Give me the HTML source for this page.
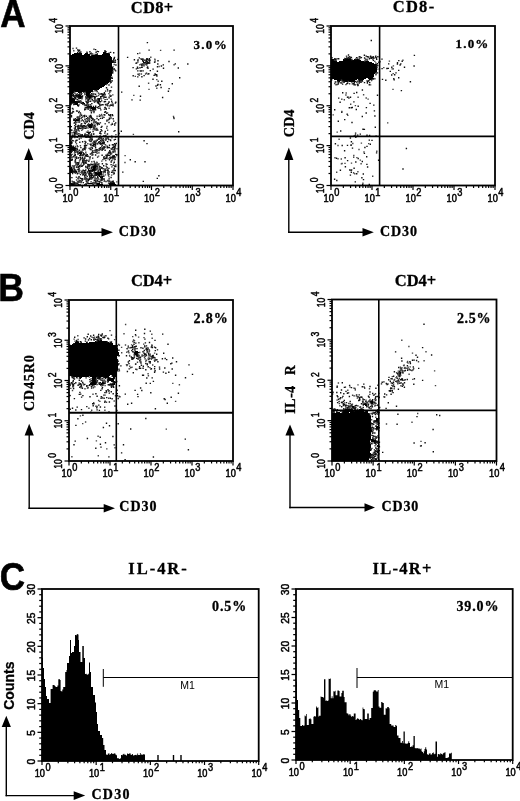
<!DOCTYPE html>
<html><head><meta charset="utf-8"><style>
html,body{margin:0;padding:0;background:#fff;overflow:hidden;}
svg{display:block;}
</style></head><body>
<svg width="520" height="801" viewBox="0 0 520 801">
<rect width="520" height="801" fill="#fff"/>
<path d="M103 52.5h3M74 53.5h8M85 53.5h3M103 53.5h6M72 54.5h10M84 54.5h6M96 54.5h2M102 54.5h8M70 55.5h20M91 55.5h19M70 56.5h41M70 57.5h42M70 58.5h42M70 59.5h42M70 60.5h42M70 61.5h43M143 61.5h1M70 62.5h43M143 62.5h2M70 63.5h42M70 64.5h42M70 65.5h42M70 66.5h42M70 67.5h43M70 68.5h43M70 69.5h43M70 70.5h43M70 71.5h42M70 72.5h42M70 73.5h42M70 74.5h42M70 75.5h42M70 76.5h41M70 77.5h41M70 78.5h41M70 79.5h41M70 80.5h40M70 81.5h40M70 82.5h39M70 83.5h38M70 84.5h36M70 85.5h35M70 86.5h34M70 87.5h32M70 88.5h30M70 89.5h29M70 90.5h23M70 91.5h22M70 92.5h4M78 92.5h4M86 92.5h5M70 93.5h3M86 93.5h4M70 94.5h2M78 94.5h2M86 94.5h4M103 94.5h1M70 95.5h3M76 95.5h5M86 95.5h5M70 96.5h2M77 96.5h5M87 96.5h5M93 96.5h2M70 97.5h2M79 97.5h3M88 97.5h3M70 98.5h4M80 98.5h1M89 98.5h1M98 98.5h2M70 99.5h5M98 99.5h2M70 100.5h5M98 100.5h2M70 101.5h7M94 101.5h2M98 101.5h1M70 102.5h8M82 102.5h2M98 102.5h1M70 103.5h2M74 103.5h4M82 103.5h3M98 103.5h1M70 104.5h1M75 104.5h3M86 104.5h1M77 105.5h1M88 106.5h4M89 107.5h6M90 108.5h6M92 109.5h3M91 117.5h1M76 119.5h3M75 120.5h4M88 124.5h3M70 125.5h1M88 125.5h4M70 126.5h2M81 126.5h4M88 126.5h4M82 127.5h2M89 127.5h3M75 131.5h1M74 132.5h2M87 132.5h2M74 133.5h2M88 133.5h1M81 136.5h2M71 137.5h1M90 139.5h3M91 140.5h1M71 141.5h1M70 142.5h2M102 142.5h2M70 143.5h2M102 143.5h1M70 144.5h1M93 144.5h2M70 145.5h2M93 145.5h1M70 146.5h2M70 147.5h5M70 148.5h6M70 149.5h6M70 150.5h6M70 151.5h2M79 152.5h3M79 153.5h3M80 154.5h1M113 156.5h2M77 164.5h1M95 164.5h1M94 165.5h2M93 166.5h3M71 167.5h1M93 167.5h3M70 168.5h2M93 168.5h3M70 169.5h2M92 169.5h4M100 169.5h1M70 170.5h3M88 170.5h7M100 170.5h1M70 171.5h3M75 171.5h2M89 171.5h3M100 171.5h2M70 172.5h2M84 172.5h2M90 172.5h1M95 172.5h7M84 173.5h2M95 173.5h7M85 174.5h1M91 174.5h1M95 174.5h6M90 175.5h2M98 175.5h2M91 176.5h1M99 176.5h4M100 177.5h3M102 178.5h1M102 179.5h1M88 180.5h1M73 182.5h1M71 183.5h5M88 183.5h5M96 183.5h4M109 183.5h6M71 184.5h3M78 184.5h1M97 184.5h6M109 184.5h7M110 185.5h6" stroke="#000" stroke-width="1.05" fill="none"/>
<path d="M147.4 42.6h0M76.5 48.1h0M77.7 49.9h0M78.2 50.1h0M79.6 50.2h0M95.6 49.6h0M149.1 50.1h0M174.1 50.1h0M78.9 51.2h0M97.4 51.4h0M104.9 51.4h0M105 50.7h0M77.7 52.4h0M80.8 52h0M86.9 52.1h0M89.9 51.8h0M96.1 52.3h0M98.4 51.6h0M106 51.8h0M110.6 52.4h0M79.8 52.6h0M87.1 52.6h0M91.3 53.3h0M109.1 53.2h0M113.7 52.8h0M90.3 53.6h0M95.2 54.4h0M137.7 53.6h0M114.5 57.4h0M127.6 57.4h0M114.3 58.3h0M139.3 57.9h0M113.6 59.2h0M117.8 59.4h0M140.9 58.9h0M141.8 59.3h0M146.8 58.6h0M147.1 58.6h0M147.5 59.3h0M149.4 58.8h0M113.8 60.1h0M115.4 60.2h0M134.4 59.8h0M142.8 59.8h0M144.7 60.4h0M146.3 60h0M148.5 60.1h0M150 60.2h0M112.8 60.7h0M137.9 60.5h0M142.7 60.7h0M143 61h0M146.2 60.7h0M147.2 61.3h0M149.6 61h0M158 60.8h0M113.4 61.7h0M113.8 62.4h0M114.8 62.1h0M115.4 62.2h0M146 61.8h0M147.7 62.5h0M148.8 62.4h0M154.6 62.2h0M169 61.5h0M136.1 63.2h0M136.8 62.9h0M145.7 62.8h0M146.5 63.2h0M147.3 63.5h0M148.8 63.3h0M149.7 63h0M141.2 64.2h0M142.9 64.4h0M143 63.7h0M157.8 64h0M175.3 63.9h0M187.8 64h0M115.9 65h0M141.8 65.4h0M146 64.5h0M163.3 64.9h0M144 65.9h0M161.4 66h0M113 66.9h0M137.5 67.2h0M141.7 67.3h0M142.3 67.1h0M147.6 67h0M157.5 66.7h0M133.1 67.6h0M137.9 68.4h0M140 67.8h0M147.3 67.6h0M148 68.3h0M163.5 68.3h0M178.3 68h0M114 68.8h0M114.1 68.8h0M136.4 68.9h0M153.1 69.1h0M114.9 69.9h0M115.7 70.9h0M137.8 70.9h0M140.2 70.9h0M141.4 70.9h0M143.1 70.9h0M150.3 70.6h0M157.4 71.2h0M112.8 71.6h0M112.7 73h0M146.5 73.1h0M138.1 74.3h0M148 74.1h0M148.8 73.7h0M155.1 73.9h0M154.1 75.4h0M155.3 74.7h0M156.7 74.8h0M133.2 75.7h0M144.1 75.6h0M156.9 76h0M111.8 77.1h0M137.8 76.9h0M141.9 76.8h0M111 78.1h0M112.3 78.4h0M179.7 77.8h0M153 79.3h0M110.1 80.5h0M110.4 81.3h0M112.3 80.9h0M161.8 81.3h0M111.1 82.2h0M110.4 82.9h0M158 84.4h0M172.3 83.8h0M109 85h0M157.6 85.3h0M160.4 84.7h0M139.2 86.2h0M156 86h0M111.5 87.1h0M161.1 87.5h0M106.5 87.8h0M107.5 89.4h0M169.1 88.6h0M96.7 90.2h0M92.7 91.5h0M95.1 90.8h0M105.6 91.1h0M107.7 90.9h0M109.7 91h0M110.8 90.7h0M168.4 91.3h0M83.9 92.4h0M97.1 91.6h0M121.7 92.1h0M74.9 93.1h0M79.8 93.5h0M81.8 93.4h0M98.5 93.1h0M104.4 92.7h0M73.3 94.2h0M77.4 93.9h0M90 94.5h0M91.6 93.8h0M93.2 94h0M95.6 94.2h0M101.4 93.6h0M101.4 94.1h0M102.9 93.9h0M104.6 93.9h0M104.9 94.5h0M72.7 94.9h0M73.6 95.1h0M76.4 94.8h0M81.4 94.8h0M85 94.5h0M91 95.4h0M102.4 94.5h0M73.1 96.4h0M74 95.8h0M75 96.3h0M75.7 95.8h0M76.7 96.4h0M82.7 95.9h0M92 95.5h0M92.7 96.4h0M96.8 96.2h0M102.1 96.2h0M102.8 95.6h0M103.1 95.6h0M110.7 96.4h0M111 95.8h0M140.5 96.2h0M78.3 97.4h0M82.3 96.6h0M86 96.7h0M87.6 97.1h0M91.5 97.3h0M95.1 96.5h0M100.7 96.7h0M104.6 97.2h0M106 97.3h0M72.1 97.9h0M74.4 97.5h0M75.8 97.7h0M79.4 98.2h0M85.9 98.1h0M87.1 98.3h0M94.4 97.8h0M94.5 98h0M95.2 97.5h0M100.9 98.3h0M109.1 97.9h0M162.6 97.5h0M74.1 98.9h0M75.7 98.7h0M78.8 98.7h0M81.9 98.7h0M88 99.4h0M89.3 99.1h0M90.9 98.8h0M95 99.1h0M107.1 99.4h0M77.3 99.7h0M85.9 99.9h0M87.8 100.2h0M88.5 100.3h0M92.4 99.8h0M96.9 100.2h0M105.1 99.6h0M132 99.9h0M140.2 100.1h0M78.8 101h0M79.3 101.5h0M80.9 101.3h0M88.9 101.4h0M90.6 101.2h0M93.3 100.9h0M101.7 100.9h0M111.7 101.2h0M77.4 101.6h0M78.3 102.3h0M86.1 101.6h0M86.8 102.2h0M88.2 102.3h0M97.7 101.8h0M99.3 101.7h0M100.4 101.8h0M104.3 101.7h0M105.5 101.6h0M109 102.4h0M115.8 102.3h0M72.3 103.1h0M79.8 102.6h0M80 102.6h0M81.4 103.3h0M87.2 103.2h0M97.6 102.7h0M108.3 103.5h0M115.4 103.1h0M74.9 104.3h0M88.1 104.2h0M91.8 103.6h0M99.2 104h0M99.9 104.3h0M105.5 104.4h0M107.1 104.2h0M113 104.2h0M73.7 104.6h0M79 104.9h0M84.1 104.5h0M90.2 104.7h0M100.6 105.4h0M102.1 104.6h0M103 104.8h0M110.5 105.3h0M111 104.9h0M111.3 105.3h0M112.8 105.2h0M78.2 105.5h0M78.4 106h0M85.1 105.5h0M86.6 105.8h0M88.5 105.7h0M93.5 106.4h0M95.7 106.3h0M99.8 105.6h0M107.8 105.7h0M113.1 105.9h0M87.6 106.7h0M88.5 107.4h0M95.7 107.2h0M98.4 106.6h0M105.2 107.4h0M85.6 107.6h0M86.4 107.6h0M87.8 107.7h0M88.5 108.4h0M97.4 107.6h0M100.1 108.4h0M104.9 107.8h0M106.1 108.4h0M72.5 108.5h0M85.3 109.4h0M106.2 109.3h0M84.7 109.8h0M90.1 110.2h0M90.8 109.9h0M93.9 110.3h0M95.6 109.8h0M100.8 109.9h0M76.6 111h0M77.3 111.1h0M79.2 111.4h0M92 110.8h0M93.9 111.5h0M72.9 111.5h0M73.5 111.7h0M104.8 112.3h0M105.6 111.8h0M72.2 112.7h0M78.7 112.6h0M80.4 113h0M91.4 112.7h0M106.6 113.2h0M71 113.6h0M81.6 115.3h0M84.7 115.5h0M90.7 115.4h0M104.1 114.8h0M104.8 115h0M108.7 114.7h0M110.6 114.8h0M112.4 114.7h0M71.5 115.8h0M79.9 116.2h0M83.5 115.9h0M86.4 116.3h0M89.4 116.1h0M90.2 116.5h0M91.2 116.5h0M99.3 116.3h0M100.4 115.9h0M109.8 115.5h0M110.7 116.1h0M112.7 115.6h0M71.5 116.8h0M77.2 117.3h0M78 117h0M82.1 117.4h0M84.5 116.8h0M104 117.4h0M81.4 118.1h0M87.8 117.7h0M90 117.6h0M91.5 118.1h0M92.1 118.3h0M100.5 118.4h0M102.4 118.2h0M109.4 118.1h0M111 118h0M173.8 117.7h0M73.9 119.1h0M74.4 119.5h0M75.6 118.8h0M78.3 118.7h0M79.3 119.4h0M79.7 118.5h0M85 119.2h0M86.7 118.6h0M93.2 119h0M97 118.5h0M109.5 119.1h0M113.2 118.8h0M73.8 120.4h0M74.8 120.3h0M79.2 120.4h0M82.3 120h0M89 120.4h0M91.7 120.5h0M92.8 119.5h0M98.6 119.8h0M107 120.1h0M108.5 119.9h0M83.6 121h0M89.4 121.5h0M94.2 120.8h0M106.9 121.1h0M113.7 121.1h0M75.4 121.7h0M76.3 122.1h0M79.5 122h0M86.7 122h0M87.4 121.5h0M95.6 122.2h0M74.2 123.1h0M74.8 122.7h0M84.7 123.1h0M96.3 123h0M97.3 122.9h0M98.7 123.2h0M109 122.5h0M115.7 122.9h0M75.7 124.2h0M81.7 123.8h0M85.4 123.6h0M91.4 124.5h0M91.6 123.5h0M92.7 124.4h0M97.5 123.5h0M99.2 124.2h0M112.5 124.4h0M114.7 124h0M81 125.5h0M95 125h0M97.4 124.9h0M74.8 125.6h0M77.3 126.3h0M78.4 125.5h0M78.6 126.3h0M80.4 125.7h0M80.6 126.4h0M82.3 125.9h0M83.7 125.8h0M84.6 125.6h0M86 126.4h0M87.2 125.6h0M92.8 125.7h0M93 126.5h0M94.7 125.6h0M101.9 126.5h0M75.6 126.6h0M85 126.5h0M101.2 127.4h0M75.4 127.8h0M77.9 128.4h0M78 127.8h0M79.1 127.8h0M79.9 128.4h0M81.1 128.5h0M83.1 128.1h0M84.9 128.2h0M86 128.4h0M93.1 127.5h0M93.9 128.3h0M106.7 128.1h0M75.2 128.7h0M78.6 128.9h0M82.7 129.1h0M94.9 128.9h0M96.8 128.5h0M70.7 129.7h0M71.8 130.3h0M76.1 129.6h0M78 130h0M78.3 129.8h0M95 129.9h0M97.1 129.7h0M97.8 130.1h0M101.1 129.6h0M76.1 130.7h0M88 131.1h0M93.1 131.5h0M101.8 130.8h0M115 130.6h0M121.3 131.2h0M76.6 131.7h0M90.2 132.3h0M100.4 131.8h0M105.3 131.5h0M178.7 131.7h0M72.1 132.9h0M73.9 132.5h0M76.9 133.2h0M89.1 132.8h0M99.8 133.3h0M104.8 133.1h0M119.1 133.5h0M74.4 134.2h0M78.9 133.6h0M85.1 134h0M88.6 134.1h0M89.2 133.7h0M91.5 133.9h0M93.6 134.3h0M100.9 133.8h0M107.5 134h0M72.3 135.3h0M74.9 135.1h0M78.6 135.4h0M81.7 135.3h0M82.2 134.6h0M82.3 135.4h0M84.7 135.3h0M86.7 134.9h0M91.1 134.8h0M105.9 135.4h0M72.1 136.2h0M73.6 136.3h0M74.9 136.2h0M79.5 136h0M80.7 135.7h0M83.5 136.3h0M84.4 136.3h0M85.2 135.5h0M87.2 136h0M88.3 135.6h0M91 135.7h0M91.8 136.1h0M96.7 136.5h0M100 136.3h0M100.2 136h0M104 135.8h0M105.6 136.2h0M111.8 136.2h0M72.7 137.1h0M77.2 137.3h0M85.6 136.7h0M86.2 137.3h0M87.8 137h0M88.7 136.7h0M89.8 137.3h0M90.5 137.5h0M100.6 137.1h0M107.9 137.1h0M115.6 137.1h0M71.6 138.1h0M81.1 138.1h0M92.1 138h0M98.9 138.3h0M99.6 137.8h0M106 138.2h0M71.6 139.1h0M79.3 139h0M90.9 138.9h0M98.3 139.2h0M101.4 138.6h0M103.2 138.6h0M108 138.5h0M108.8 139.5h0M115.4 139.4h0M76.1 140.5h0M77 140.2h0M89.3 140.1h0M97.2 140.3h0M100.6 140.4h0M102.1 140h0M103.2 140.3h0M105.7 140.1h0M110.5 139.9h0M114.3 139.9h0M70.7 140.5h0M72.5 140.7h0M73.1 140.8h0M90.1 141.2h0M93.9 141.4h0M94.6 141.3h0M96.1 141.3h0M103.8 141.2h0M110.7 140.5h0M144.1 140.8h0M79.8 142.3h0M82.6 141.8h0M85 141.5h0M85.8 142.2h0M91.1 141.5h0M95.7 142.4h0M98.9 141.9h0M99.6 141.7h0M101.5 141.9h0M107.6 141.6h0M72.2 142.9h0M93.1 143.2h0M94.4 142.6h0M95 143.2h0M98.4 142.6h0M100.2 142.5h0M104.3 142.6h0M116.3 143.4h0M85.1 143.7h0M90.2 144.3h0M91.4 144.1h0M95.6 143.9h0M97.7 143.8h0M99.8 143.6h0M100.7 143.6h0M100.7 144.3h0M101.9 143.7h0M103.6 143.5h0M104.1 143.9h0M114.6 143.6h0M147 143.6h0M71.1 145h0M86.6 145.4h0M95.4 144.7h0M102.2 145.4h0M105.5 144.9h0M109.5 145.3h0M112.4 144.7h0M113.8 144.7h0M115.6 144.6h0M72.8 146.4h0M73.4 146.2h0M84.5 145.8h0M85.4 145.5h0M91 145.6h0M92.7 145.5h0M93.6 146.1h0M95.5 146h0M114.3 146.4h0M115.5 145.9h0M77.8 146.6h0M84.9 146.9h0M85.5 147.2h0M103.6 147h0M104.6 146.8h0M105 147.2h0M107.3 146.8h0M108.1 147.5h0M113.4 146.9h0M114.9 147.3h0M77 148.5h0M80.9 147.6h0M84.4 148.3h0M85.7 148h0M91.9 147.5h0M92.4 148.2h0M95.6 147.8h0M100.3 147.7h0M102.1 148h0M103.3 148.1h0M104.4 148.1h0M107.3 147.7h0M109.4 147.5h0M112.5 147.8h0M113.8 147.8h0M76.8 148.7h0M83.1 149h0M84.6 149.2h0M90.1 148.9h0M90.4 149.5h0M99.2 149h0M99.4 148.7h0M102.1 148.8h0M103 149.4h0M111.1 148.9h0M112 149.2h0M114.7 148.7h0M115.1 148.9h0M77.4 149.5h0M79.4 150.2h0M82.6 149.7h0M95.2 150.2h0M96.3 149.8h0M97.2 149.8h0M100.4 149.5h0M102.1 150.2h0M105.1 150.3h0M114.3 150h0M74.7 151.1h0M76.5 150.9h0M77.2 151.4h0M92.9 150.6h0M96.8 150.6h0M99 150.6h0M109.7 150.7h0M71.4 152.4h0M75.1 152.3h0M77 152.1h0M78 152.4h0M81.6 151.9h0M92.7 152h0M95 152.4h0M95.6 152.1h0M109.1 152.2h0M113.5 151.6h0M115 151.9h0M83.1 152.8h0M91.8 153.5h0M93.2 152.6h0M98.9 152.9h0M108.6 153h0M110.3 152.6h0M72 154.4h0M75.3 154.4h0M77.8 154.1h0M78.2 153.7h0M83.7 154.2h0M83.8 153.6h0M84.6 154.1h0M86.2 154.1h0M90.4 154h0M107.5 154.1h0M110.1 153.5h0M110.7 154h0M115.7 154.4h0M71.2 155.2h0M74.5 155.2h0M81.7 155h0M83.7 155h0M87.3 154.6h0M92.8 154.7h0M95.6 155h0M102.1 155.3h0M106 155.3h0M108.3 155.2h0M117 154.7h0M75.2 155.7h0M79.7 155.5h0M80.6 155.7h0M82.6 155.8h0M85.7 155.6h0M86.6 155.7h0M87 156.4h0M88.1 156.2h0M106.5 155.5h0M107.1 155.6h0M109.7 155.5h0M112.9 155.9h0M114.2 155.6h0M71.8 156.9h0M73.7 156.5h0M76.6 156.9h0M90.2 157h0M97.6 157.1h0M104.1 156.6h0M106.9 156.7h0M107 156.7h0M110.9 157.1h0M112.5 157.4h0M112.5 156.5h0M114.1 157.4h0M115.4 157.1h0M75.2 157.9h0M76.6 158.2h0M78.6 157.8h0M80.4 157.6h0M82.4 157.7h0M84.8 158.3h0M92.7 158.1h0M103.7 157.9h0M105.5 158.5h0M106.2 158.2h0M106.8 157.6h0M109.5 157.9h0M110.5 158.2h0M111.2 157.7h0M113.7 157.7h0M71.9 159.2h0M72.3 159.5h0M80.9 158.7h0M82.8 159h0M83.4 159.3h0M104.2 158.7h0M112.9 158.7h0M70.8 160.2h0M71.8 160.2h0M75.5 159.8h0M80.2 159.7h0M84.1 159.5h0M86.5 160.2h0M109.6 159.8h0M130.3 159.8h0M75.1 161h0M82.6 160.7h0M83 160.9h0M84.3 161.1h0M85.1 160.8h0M87 160.5h0M88.8 161.4h0M94.1 161.5h0M111.9 160.5h0M75.3 162.2h0M82.8 161.7h0M82.9 162.2h0M86 162h0M111.2 162.1h0M114.3 162.2h0M135.2 161.7h0M145 161.8h0M77.3 162.6h0M77.8 163h0M78.5 163.2h0M78.9 162.7h0M83.5 162.7h0M85.1 162.7h0M86.1 163.3h0M76.4 164h0M78.5 164.3h0M83.8 163.5h0M83.9 164.2h0M87.8 164.5h0M90.9 164.3h0M91.3 164.5h0M92.6 164.4h0M95.3 163.9h0M97.1 164.4h0M98.5 164.4h0M102.4 163.7h0M106.1 163.9h0M107 164.4h0M83 165.4h0M88.7 164.7h0M89.2 164.7h0M93.2 165.1h0M94.2 164.7h0M96.7 165h0M111.1 164.6h0M113.1 165.3h0M72.8 165.9h0M74.4 166h0M79.3 165.6h0M81.6 166h0M81.8 166.2h0M82.2 166.1h0M85.8 166.4h0M88 166h0M89.2 166.4h0M89.9 165.5h0M92.2 166.4h0M96.5 166.4h0M99.3 166.2h0M103.7 165.8h0M106.2 166.1h0M114.8 165.9h0M114.8 166.3h0M115.8 166.5h0M76.5 167.3h0M78.4 167.4h0M78.7 166.6h0M79.9 166.7h0M87.6 166.9h0M91.5 167.4h0M92.2 167.2h0M97 167.4h0M97.3 166.5h0M99.3 167h0M107.2 167.5h0M111.9 166.9h0M72.8 168.1h0M74.1 168h0M86 167.5h0M87.6 167.8h0M87.9 168.4h0M101.1 168.3h0M101.1 167.8h0M102.1 167.8h0M106.9 168.1h0M108.9 168.4h0M114.2 168.3h0M74.6 169.4h0M77.9 169.4h0M79.1 168.8h0M88.6 169.4h0M91.6 168.8h0M92.1 168.9h0M97.1 168.8h0M99.7 169.2h0M103.1 168.8h0M105 169h0M72.4 169.6h0M74.3 170.3h0M75.8 170.3h0M79 169.7h0M83.2 170.3h0M85.8 170h0M96.3 169.9h0M98.2 170.2h0M104.9 170.1h0M105.8 170.2h0M107.6 170h0M107.7 170.3h0M108.2 170.2h0M115.3 170.5h0M73.7 171.3h0M74.8 171.3h0M81.9 171.2h0M82.3 171.2h0M84.4 170.7h0M84.9 171.2h0M85 170.9h0M88.1 171.4h0M92.6 171.4h0M95.1 170.6h0M103.8 171.3h0M108.1 171.3h0M114.3 170.5h0M72.6 172.3h0M73.6 172.1h0M76.8 172.4h0M78.6 171.6h0M87.4 171.9h0M94.3 171.9h0M98.8 171.5h0M102.1 171.9h0M104.6 171.6h0M105.1 171.8h0M111.7 172.4h0M112.3 172.1h0M122.8 172.1h0M74.9 172.6h0M75.5 173h0M81.1 172.5h0M82.6 172.6h0M83.9 173.3h0M89.5 172.6h0M90.4 173.2h0M94.2 173h0M107.9 172.7h0M113.8 173h0M114.1 172.9h0M114.3 173.5h0M72.6 173.5h0M77.4 173.7h0M82.9 174.3h0M83.8 174.2h0M88.8 173.8h0M89.3 173.9h0M91.6 173.7h0M101.5 174.3h0M108.3 174.3h0M80.5 174.6h0M82.9 175.1h0M86.1 175h0M89.1 175.1h0M90.2 174.9h0M92.4 175.4h0M96.4 175.3h0M101.9 175h0M84.7 175.6h0M87.2 176.4h0M89.7 176.4h0M93.4 176h0M94.6 175.8h0M95 175.6h0M97.8 176h0M103.8 175.9h0M103.8 176.4h0M158.9 175.7h0M79.1 176.8h0M84.9 176.9h0M90 177h0M93.1 177.5h0M97.7 177.2h0M71.9 177.6h0M80.4 178.2h0M85.2 177.8h0M86.7 178.3h0M89.2 178.4h0M90.3 177.8h0M91.7 177.7h0M91.9 178.5h0M98.2 178.1h0M101.5 178.2h0M111.1 177.5h0M157.3 178.4h0M78.4 178.9h0M81.6 178.8h0M82.4 178.6h0M82.8 179.5h0M86 179.2h0M90.1 179.1h0M104 178.8h0M82.2 180.5h0M87 180h0M88 179.6h0M89.3 179.6h0M94.3 180.3h0M95.3 180.4h0M97.4 180.5h0M101.7 179.7h0M102.1 180h0M78.3 181.1h0M79.8 180.5h0M86.4 181.4h0M98.5 181.5h0M99.9 181.4h0M101.6 180.6h0M106 181.5h0M107.9 180.5h0M109.8 181.2h0M113.3 181.1h0M143.3 181.4h0M74 181.7h0M79 182.4h0M81.1 181.8h0M91.1 181.9h0M95.6 182.3h0M95.7 181.8h0M96.2 182h0M99.9 182.3h0M111.3 182.5h0M112.2 181.5h0M112.8 182.2h0M70.9 183.5h0M74.3 182.7h0M76.4 183.4h0M77.8 183.1h0M81 182.6h0M83.3 182.6h0M87.1 182.8h0M87.2 183.4h0M93.9 183.1h0M101.8 182.6h0M108.6 183.1h0M110.3 182.7h0M114 182.8h0M77.4 184.1h0M86.3 184.2h0M74.4 184.8h0M84.8 184.6h0M93.1 184.7h0" stroke="#111" stroke-width="1.4" stroke-linecap="square" fill="none"/>
<path d="M73 48.5h0M94 49.2h0M160.6 50.4h0M73.8 50.8h0M139.8 53.1h0M92 53.6h0M92.9 54.2h0M97.3 53.7h0M91.2 54.9h0M150.8 57.3h0M142.9 58.7h0M154.8 59.1h0M138.1 59.7h0M143.7 59.7h0M145.2 60.5h0M155.1 60h0M115 61.5h0M137.9 62h0M155 61.7h0M144.5 63.4h0M114.2 64.5h0M139.9 64.7h0M142.7 65.3h0M144.1 64.7h0M146.8 65h0M174.1 64.7h0M159.1 66.5h0M113.4 69.8h0M140.9 71.3h0M139.5 73.9h0M141.4 74h0M145.6 74h0M139.2 75.4h0M135.3 76.4h0M156.8 79.6h0M111.5 80.9h0M158.2 81.3h0M148.6 83.2h0M106.6 84.5h0M156.8 88.2h0M149 89.4h0M74.5 92.1h0M85.3 92.5h0M109.8 92.4h0M84.8 93.2h0M75.9 94.1h0M80.4 94.2h0M80.9 93.5h0M94.1 94h0M99.5 94.1h0M100.6 94h0M108.9 93.6h0M77.8 94.6h0M93 95.3h0M105.1 94.8h0M109.9 95.3h0M112.8 94.9h0M133.8 95.4h0M98.6 95.5h0M103.4 96.2h0M104.1 96.2h0M77.4 97.5h0M86 96.6h0M109.3 97h0M82.4 97.6h0M88.3 98.4h0M92 97.7h0M103.4 98.1h0M103.7 97.8h0M94.9 99.5h0M97.5 99.3h0M97.6 98.7h0M101.1 99.1h0M111.1 99.3h0M80.4 100.6h0M87.7 101.2h0M94.5 100.7h0M95.5 100.8h0M97.9 100.7h0M81.6 102.2h0M94.5 102.3h0M96.1 101.5h0M109 101.6h0M112.2 102.7h0M73.6 103.7h0M82.7 104.2h0M87.3 104.3h0M71.3 104.5h0M85.9 104.6h0M91 105.3h0M101.1 105.1h0M101.4 104.6h0M106.1 105.4h0M87.7 105.6h0M99.7 106.1h0M109.8 106h0M84.9 108.3h0M90 108.2h0M98.5 108.3h0M100 108.3h0M109.1 108.2h0M73.3 109.1h0M86.1 108.9h0M87.6 108.8h0M88.3 109.3h0M104.4 109.4h0M91.1 111.1h0M94.2 111.6h0M72 113.1h0M93.9 112.6h0M107.6 113h0M80.8 114.2h0M80 115.1h0M99.6 114.9h0M101.6 114.5h0M97.1 116.2h0M102 115.8h0M173.5 116.4h0M79.2 117.3h0M82.5 116.9h0M103 117.2h0M78.2 117.5h0M89.3 118.4h0M77.7 118.5h0M87.8 119.5h0M88.5 118.7h0M174.1 118.6h0M87.7 120.1h0M89.7 119.7h0M94.7 119.8h0M81.3 120.9h0M85.9 120.5h0M77.9 122h0M78.9 122h0M85.3 121.8h0M93.6 122.3h0M94.2 121.8h0M95.9 121.8h0M96.3 122.3h0M75.6 123.1h0M84.4 122.9h0M94 123h0M100.4 122.7h0M112.3 123.4h0M81.1 124.2h0M88.6 123.8h0M105.2 123.8h0M87.7 124.8h0M111.3 124.8h0M114.7 125.3h0M79.8 126h0M93.6 126.2h0M107.1 126.4h0M70.6 127.2h0M79.3 126.9h0M81.2 127.3h0M84 127h0M86.3 127.3h0M88 127.3h0M94.4 126.6h0M95.4 126.7h0M74.4 128.2h0M77.8 127.6h0M82.8 128.1h0M88 128.1h0M94.5 127.8h0M90.5 128.9h0M95.9 129.1h0M74.8 129.8h0M78.4 130.2h0M81.8 130.4h0M93.1 129.6h0M96.4 130.4h0M96.8 129.7h0M107.6 130.3h0M74.2 131h0M74.8 130.9h0M79.2 131h0M114 131.4h0M70.7 132.1h0M76.1 132.2h0M86.5 132.1h0M75.9 134.3h0M77.5 134.4h0M93.7 133.8h0M133.4 134.4h0M73.3 135.5h0M80.2 134.5h0M81 134.9h0M87.6 134.8h0M115.9 134.6h0M89.9 136.3h0M90 136h0M103.6 136.1h0M71.7 136.8h0M75.6 136.9h0M88.3 137.3h0M74.8 137.5h0M99.8 138.4h0M101.4 137.7h0M106.6 138.4h0M111.9 137.8h0M89.9 139.2h0M91.1 138.8h0M99.2 139.2h0M100.3 138.6h0M105.2 139.4h0M92.2 140.1h0M96.2 140.5h0M106.4 139.6h0M70.7 141h0M75.5 141.2h0M90.9 141h0M75.7 142.3h0M93.3 142.4h0M95.3 141.9h0M102.8 141.9h0M76.5 143.8h0M87.8 143.7h0M96.9 143.7h0M101.3 144.4h0M113.4 145.2h0M77.3 145.8h0M80.4 145.7h0M94.7 145.9h0M94.9 146.4h0M101.7 146.5h0M107 145.9h0M75.5 146.5h0M75.5 147.3h0M85.6 146.9h0M103.7 146.8h0M89.1 148.4h0M90.4 148h0M115.3 147.7h0M100.6 148.8h0M103.5 149.3h0M117 148.7h0M76.3 149.7h0M83.2 150h0M85.3 149.8h0M91.6 149.7h0M98.2 150.1h0M113.3 149.7h0M72.4 151.3h0M78.8 151.3h0M80.7 151.5h0M82.1 151.1h0M94.9 150.8h0M97.1 151.3h0M110.5 151.4h0M112.8 151.4h0M115 150.8h0M76.6 151.5h0M85.8 152.3h0M91.8 152.4h0M96 152h0M96.8 152.3h0M113.3 152.4h0M74.5 153h0M97.1 153.4h0M109.6 153.4h0M111.8 152.9h0M70.8 154.1h0M92.1 153.8h0M111.6 153.7h0M82.5 154.8h0M92 155.4h0M98.6 156.1h0M116.6 155.6h0M125.1 155.6h0M72.8 157.1h0M84.5 157.3h0M85.4 156.6h0M105 157.1h0M71.6 157.6h0M78.2 158.2h0M89.5 157.5h0M114.4 158.3h0M82.9 159.2h0M90 158.9h0M108 158.7h0M115.3 159.3h0M89 160.2h0M102.9 159.6h0M114.5 159.8h0M79.5 161h0M85.7 161.1h0M101.8 161.1h0M105.8 160.5h0M76.4 162.5h0M91.8 161.7h0M96.8 162.2h0M111.3 161.6h0M75.6 163.1h0M81.5 163.1h0M94.7 162.8h0M97.2 162.6h0M113.6 163.1h0M125 162.5h0M93.8 164.5h0M94.4 163.6h0M96.8 163.8h0M98.9 163.8h0M75.7 165h0M77.5 165.3h0M80.5 165.2h0M81.2 164.9h0M96.5 164.9h0M98 165.3h0M115.5 165.1h0M115.9 164.9h0M70.8 166.3h0M76.8 166.5h0M88.9 166.5h0M73.4 166.6h0M77.4 167.3h0M97.4 167.5h0M100.6 166.6h0M74.3 168h0M89.7 168.2h0M99.1 168.3h0M96.3 168.8h0M73.7 170.3h0M79.8 170.4h0M91 169.5h0M99.2 170h0M113.4 170.3h0M114 169.5h0M78.4 170.7h0M79.4 171.5h0M83 171.4h0M112.4 170.7h0M87.5 172.5h0M91.2 172.1h0M97.5 171.8h0M103.6 172.3h0M105.3 172.5h0M109.4 172h0M113.4 172.1h0M79 173.3h0M81.6 173h0M82.2 173h0M83.5 172.7h0M86.1 173.4h0M88 172.8h0M108.2 173h0M84.8 174h0M92.5 174.3h0M94.3 173.9h0M103.2 174h0M109.1 174.2h0M113.5 174h0M94.7 174.8h0M105.4 174.9h0M108.4 175.3h0M111.6 175.1h0M90.6 176.5h0M101 175.7h0M108.9 176.4h0M76.4 177.3h0M79 176.8h0M94.9 177.1h0M77.9 178.2h0M78.7 177.7h0M84.4 178.4h0M85.5 178.1h0M95.1 177.9h0M95.8 178.1h0M109.2 178.3h0M84.8 179.3h0M87.1 179h0M87.5 179h0M91.4 179.1h0M94.9 178.7h0M96.8 178.6h0M98.1 179.2h0M100.1 179.2h0M103.1 179.3h0M109.1 179h0M76.6 180h0M81.7 179.9h0M86.4 179.7h0M95.9 179.9h0M100.7 180.4h0M104.3 179.8h0M104.4 180.4h0M72.2 181.2h0M79.3 181.4h0M80.4 180.8h0M86.2 180.5h0M87.3 181.1h0M96.5 181.2h0M104.2 181.4h0M108.2 181.3h0M108.4 180.9h0M109 180.6h0M73 181.9h0M77.5 181.8h0M78.1 182.5h0M88.1 182h0M94.1 182.2h0M97.8 181.8h0M111.1 181.9h0M116.8 181.9h0M73 182.9h0M75.8 182.7h0M92.9 182.8h0M95.2 183.3h0M101.9 183.4h0M85.9 183.6h0M94.2 183.5h0M96.4 184.3h0M75.4 184.5h0M76.1 184.5h0M79.6 184.7h0M80.3 184.8h0" stroke="#444" stroke-width="1.4" stroke-linecap="square" fill="none"/>
<rect x="70.00" y="26.00" width="163.00" height="159.50" fill="none" stroke="#000" stroke-width="1.8"/>
<line x1="82.27" y1="185.50" x2="82.27" y2="188.00" stroke="#000" stroke-width="1.2"/>
<line x1="89.44" y1="185.50" x2="89.44" y2="188.00" stroke="#000" stroke-width="1.2"/>
<line x1="94.53" y1="185.50" x2="94.53" y2="188.00" stroke="#000" stroke-width="1.2"/>
<line x1="98.48" y1="185.50" x2="98.48" y2="188.00" stroke="#000" stroke-width="1.2"/>
<line x1="101.71" y1="185.50" x2="101.71" y2="188.00" stroke="#000" stroke-width="1.2"/>
<line x1="104.44" y1="185.50" x2="104.44" y2="188.00" stroke="#000" stroke-width="1.2"/>
<line x1="106.80" y1="185.50" x2="106.80" y2="188.00" stroke="#000" stroke-width="1.2"/>
<line x1="108.89" y1="185.50" x2="108.89" y2="188.00" stroke="#000" stroke-width="1.2"/>
<line x1="123.02" y1="185.50" x2="123.02" y2="188.00" stroke="#000" stroke-width="1.2"/>
<line x1="130.19" y1="185.50" x2="130.19" y2="188.00" stroke="#000" stroke-width="1.2"/>
<line x1="135.28" y1="185.50" x2="135.28" y2="188.00" stroke="#000" stroke-width="1.2"/>
<line x1="139.23" y1="185.50" x2="139.23" y2="188.00" stroke="#000" stroke-width="1.2"/>
<line x1="142.46" y1="185.50" x2="142.46" y2="188.00" stroke="#000" stroke-width="1.2"/>
<line x1="145.19" y1="185.50" x2="145.19" y2="188.00" stroke="#000" stroke-width="1.2"/>
<line x1="147.55" y1="185.50" x2="147.55" y2="188.00" stroke="#000" stroke-width="1.2"/>
<line x1="149.64" y1="185.50" x2="149.64" y2="188.00" stroke="#000" stroke-width="1.2"/>
<line x1="163.77" y1="185.50" x2="163.77" y2="188.00" stroke="#000" stroke-width="1.2"/>
<line x1="170.94" y1="185.50" x2="170.94" y2="188.00" stroke="#000" stroke-width="1.2"/>
<line x1="176.03" y1="185.50" x2="176.03" y2="188.00" stroke="#000" stroke-width="1.2"/>
<line x1="179.98" y1="185.50" x2="179.98" y2="188.00" stroke="#000" stroke-width="1.2"/>
<line x1="183.21" y1="185.50" x2="183.21" y2="188.00" stroke="#000" stroke-width="1.2"/>
<line x1="185.94" y1="185.50" x2="185.94" y2="188.00" stroke="#000" stroke-width="1.2"/>
<line x1="188.30" y1="185.50" x2="188.30" y2="188.00" stroke="#000" stroke-width="1.2"/>
<line x1="190.39" y1="185.50" x2="190.39" y2="188.00" stroke="#000" stroke-width="1.2"/>
<line x1="204.52" y1="185.50" x2="204.52" y2="188.00" stroke="#000" stroke-width="1.2"/>
<line x1="211.69" y1="185.50" x2="211.69" y2="188.00" stroke="#000" stroke-width="1.2"/>
<line x1="216.78" y1="185.50" x2="216.78" y2="188.00" stroke="#000" stroke-width="1.2"/>
<line x1="220.73" y1="185.50" x2="220.73" y2="188.00" stroke="#000" stroke-width="1.2"/>
<line x1="223.96" y1="185.50" x2="223.96" y2="188.00" stroke="#000" stroke-width="1.2"/>
<line x1="226.69" y1="185.50" x2="226.69" y2="188.00" stroke="#000" stroke-width="1.2"/>
<line x1="229.05" y1="185.50" x2="229.05" y2="188.00" stroke="#000" stroke-width="1.2"/>
<line x1="231.14" y1="185.50" x2="231.14" y2="188.00" stroke="#000" stroke-width="1.2"/>
<line x1="70.00" y1="185.50" x2="70.00" y2="190.00" stroke="#000" stroke-width="1.2"/>
<line x1="110.75" y1="185.50" x2="110.75" y2="190.00" stroke="#000" stroke-width="1.2"/>
<line x1="151.50" y1="185.50" x2="151.50" y2="190.00" stroke="#000" stroke-width="1.2"/>
<line x1="192.25" y1="185.50" x2="192.25" y2="190.00" stroke="#000" stroke-width="1.2"/>
<line x1="233.00" y1="185.50" x2="233.00" y2="190.00" stroke="#000" stroke-width="1.2"/>
<line x1="70.00" y1="173.50" x2="67.50" y2="173.50" stroke="#000" stroke-width="1.2"/>
<line x1="70.00" y1="166.47" x2="67.50" y2="166.47" stroke="#000" stroke-width="1.2"/>
<line x1="70.00" y1="161.49" x2="67.50" y2="161.49" stroke="#000" stroke-width="1.2"/>
<line x1="70.00" y1="157.63" x2="67.50" y2="157.63" stroke="#000" stroke-width="1.2"/>
<line x1="70.00" y1="154.47" x2="67.50" y2="154.47" stroke="#000" stroke-width="1.2"/>
<line x1="70.00" y1="151.80" x2="67.50" y2="151.80" stroke="#000" stroke-width="1.2"/>
<line x1="70.00" y1="149.49" x2="67.50" y2="149.49" stroke="#000" stroke-width="1.2"/>
<line x1="70.00" y1="147.45" x2="67.50" y2="147.45" stroke="#000" stroke-width="1.2"/>
<line x1="70.00" y1="133.62" x2="67.50" y2="133.62" stroke="#000" stroke-width="1.2"/>
<line x1="70.00" y1="126.60" x2="67.50" y2="126.60" stroke="#000" stroke-width="1.2"/>
<line x1="70.00" y1="121.62" x2="67.50" y2="121.62" stroke="#000" stroke-width="1.2"/>
<line x1="70.00" y1="117.75" x2="67.50" y2="117.75" stroke="#000" stroke-width="1.2"/>
<line x1="70.00" y1="114.60" x2="67.50" y2="114.60" stroke="#000" stroke-width="1.2"/>
<line x1="70.00" y1="111.93" x2="67.50" y2="111.93" stroke="#000" stroke-width="1.2"/>
<line x1="70.00" y1="109.61" x2="67.50" y2="109.61" stroke="#000" stroke-width="1.2"/>
<line x1="70.00" y1="107.57" x2="67.50" y2="107.57" stroke="#000" stroke-width="1.2"/>
<line x1="70.00" y1="93.75" x2="67.50" y2="93.75" stroke="#000" stroke-width="1.2"/>
<line x1="70.00" y1="86.72" x2="67.50" y2="86.72" stroke="#000" stroke-width="1.2"/>
<line x1="70.00" y1="81.74" x2="67.50" y2="81.74" stroke="#000" stroke-width="1.2"/>
<line x1="70.00" y1="77.88" x2="67.50" y2="77.88" stroke="#000" stroke-width="1.2"/>
<line x1="70.00" y1="74.72" x2="67.50" y2="74.72" stroke="#000" stroke-width="1.2"/>
<line x1="70.00" y1="72.05" x2="67.50" y2="72.05" stroke="#000" stroke-width="1.2"/>
<line x1="70.00" y1="69.74" x2="67.50" y2="69.74" stroke="#000" stroke-width="1.2"/>
<line x1="70.00" y1="67.70" x2="67.50" y2="67.70" stroke="#000" stroke-width="1.2"/>
<line x1="70.00" y1="53.87" x2="67.50" y2="53.87" stroke="#000" stroke-width="1.2"/>
<line x1="70.00" y1="46.85" x2="67.50" y2="46.85" stroke="#000" stroke-width="1.2"/>
<line x1="70.00" y1="41.87" x2="67.50" y2="41.87" stroke="#000" stroke-width="1.2"/>
<line x1="70.00" y1="38.00" x2="67.50" y2="38.00" stroke="#000" stroke-width="1.2"/>
<line x1="70.00" y1="34.85" x2="67.50" y2="34.85" stroke="#000" stroke-width="1.2"/>
<line x1="70.00" y1="32.18" x2="67.50" y2="32.18" stroke="#000" stroke-width="1.2"/>
<line x1="70.00" y1="29.86" x2="67.50" y2="29.86" stroke="#000" stroke-width="1.2"/>
<line x1="70.00" y1="27.82" x2="67.50" y2="27.82" stroke="#000" stroke-width="1.2"/>
<line x1="70.00" y1="185.50" x2="65.50" y2="185.50" stroke="#000" stroke-width="1.2"/>
<line x1="70.00" y1="145.62" x2="65.50" y2="145.62" stroke="#000" stroke-width="1.2"/>
<line x1="70.00" y1="105.75" x2="65.50" y2="105.75" stroke="#000" stroke-width="1.2"/>
<line x1="70.00" y1="65.88" x2="65.50" y2="65.88" stroke="#000" stroke-width="1.2"/>
<line x1="70.00" y1="26.00" x2="65.50" y2="26.00" stroke="#000" stroke-width="1.2"/>
<text transform="translate(70.50,201.50) scale(0.9,1)" font-family="'Liberation Sans', sans-serif" font-size="10.3" text-anchor="middle" stroke="#000" stroke-width="0.5">10<tspan dy="-5.6" dx="0.6">0</tspan></text>
<text transform="translate(62.50,185.30) rotate(-90) scale(0.82,1)" font-family="'Liberation Sans', sans-serif" font-size="10.5" text-anchor="middle" stroke="#000" stroke-width="0.5">10<tspan dy="-5.5" dx="1.8">0</tspan></text>
<text transform="translate(111.25,201.50) scale(0.9,1)" font-family="'Liberation Sans', sans-serif" font-size="10.3" text-anchor="middle" stroke="#000" stroke-width="0.5">10<tspan dy="-5.6" dx="0.6">1</tspan></text>
<text transform="translate(62.50,145.43) rotate(-90) scale(0.82,1)" font-family="'Liberation Sans', sans-serif" font-size="10.5" text-anchor="middle" stroke="#000" stroke-width="0.5">10<tspan dy="-5.5" dx="1.8">1</tspan></text>
<text transform="translate(152.00,201.50) scale(0.9,1)" font-family="'Liberation Sans', sans-serif" font-size="10.3" text-anchor="middle" stroke="#000" stroke-width="0.5">10<tspan dy="-5.6" dx="0.6">2</tspan></text>
<text transform="translate(62.50,105.55) rotate(-90) scale(0.82,1)" font-family="'Liberation Sans', sans-serif" font-size="10.5" text-anchor="middle" stroke="#000" stroke-width="0.5">10<tspan dy="-5.5" dx="1.8">2</tspan></text>
<text transform="translate(192.75,201.50) scale(0.9,1)" font-family="'Liberation Sans', sans-serif" font-size="10.3" text-anchor="middle" stroke="#000" stroke-width="0.5">10<tspan dy="-5.6" dx="0.6">3</tspan></text>
<text transform="translate(62.50,65.67) rotate(-90) scale(0.82,1)" font-family="'Liberation Sans', sans-serif" font-size="10.5" text-anchor="middle" stroke="#000" stroke-width="0.5">10<tspan dy="-5.5" dx="1.8">3</tspan></text>
<text transform="translate(233.50,201.50) scale(0.9,1)" font-family="'Liberation Sans', sans-serif" font-size="10.3" text-anchor="middle" stroke="#000" stroke-width="0.5">10<tspan dy="-5.6" dx="0.6">4</tspan></text>
<text transform="translate(62.50,25.80) rotate(-90) scale(0.82,1)" font-family="'Liberation Sans', sans-serif" font-size="10.5" text-anchor="middle" stroke="#000" stroke-width="0.5">10<tspan dy="-5.5" dx="1.8">4</tspan></text>
<line x1="118.50" y1="26.00" x2="118.50" y2="185.50" stroke="#000" stroke-width="1.6"/>
<line x1="70.00" y1="136.60" x2="233.00" y2="136.60" stroke="#000" stroke-width="1.9"/>
<path d="M345 58.5h3M331 59.5h3M343 59.5h9M354 59.5h5M331 60.5h3M343 60.5h18M331 61.5h6M339 61.5h30M331 62.5h41M331 63.5h43M331 64.5h45M331 65.5h45M331 66.5h46M331 67.5h46M331 68.5h46M331 69.5h46M331 70.5h46M331 71.5h46M331 72.5h45M331 73.5h44M331 74.5h43M331 75.5h43M331 76.5h43M331 77.5h42M331 78.5h35M368 78.5h5M334 79.5h23M359 79.5h5M369 79.5h3M337 80.5h4M343 80.5h12M359 80.5h4M339 81.5h1M344 81.5h4M349 81.5h6" stroke="#000" stroke-width="1.05" fill="none"/>
<path d="M371.3 40.5h0M348.5 55h0M364.4 55.3h0M414.4 55.4h0M366.2 56.1h0M370.6 56.2h0M375.8 56.1h0M349.5 56.6h0M350.9 57.4h0M351.4 57.5h0M359.3 56.6h0M367.4 56.7h0M368.6 57h0M371.5 57.1h0M373.2 56.7h0M373.2 57.1h0M375.5 57.1h0M377.9 56.7h0M332 57.7h0M348.2 57.5h0M348.8 58.4h0M349.7 58.1h0M350.2 58.2h0M356.6 57.6h0M357.8 58.1h0M360.2 57.6h0M361.4 57.6h0M364.6 58h0M370.4 58h0M371.6 58.2h0M372.5 57.7h0M373.9 58.2h0M376.2 57.7h0M334.8 58.7h0M336 59.3h0M338.7 58.7h0M369.4 58.8h0M376.7 59.3h0M382 59.1h0M334 60.2h0M334.9 59.9h0M335 59.6h0M365.8 60.1h0M366.2 59.9h0M373.4 60.4h0M336 60.7h0M398.8 60.6h0M402.2 61.3h0M378.9 62.3h0M379.9 61.7h0M397.5 62.7h0M377.5 63.8h0M388.7 63.9h0M397.4 64.1h0M400.8 63.9h0M376.6 64.5h0M400.1 65h0M376.3 65.7h0M377.8 65.6h0M414.1 66h0M377 67.3h0M391.8 67.3h0M404.5 67.2h0M386.9 68.5h0M388.3 68.4h0M382.1 68.6h0M393.2 68.9h0M398.7 70.4h0M390.3 71.4h0M377.6 72.9h0M396 72.9h0M376 73.9h0M391.7 75h0M394.7 74.7h0M398.7 77.8h0M373.2 79.1h0M373.6 78.5h0M382.5 79.4h0M393.8 78.7h0M331.7 79.8h0M358.6 79.8h0M385.8 80.2h0M394.2 79.9h0M342.2 80.8h0M342.5 81h0M348.1 81.2h0M355.4 81.4h0M359.3 81.3h0M367 80.9h0M368.3 81.1h0M368.7 80.9h0M369 80.5h0M335.4 82h0M337.3 81.9h0M338.4 81.6h0M343.8 81.6h0M344.1 82.3h0M351.9 82.1h0M354.4 82.4h0M359.8 82.2h0M360.1 81.8h0M361.4 82h0M367.5 81.6h0M410.4 81.8h0M338.8 82.6h0M340.9 82.8h0M347.5 83.2h0M347.7 83h0M354.1 83.3h0M364.5 82.6h0M367.4 83h0M369.7 82.6h0M338.2 84h0M342.6 84.1h0M346.7 83.9h0M352.4 83.9h0M353.5 83.7h0M357.4 84.2h0M354.1 84.8h0M355.4 84.9h0M358.2 85h0M369.3 84.7h0M357.8 85.6h0M362.4 90h0M401.4 90.6h0M342.7 92.7h0M354.1 93.4h0M356.7 92.5h0M377.5 95.3h0M347.5 97.3h0M350.5 97.2h0M338.7 98.1h0M348.9 98.1h0M340.1 102.2h0M353.9 101.9h0M370.1 103.4h0M373.8 105.1h0M358.2 106.2h0M349.3 107.8h0M351.2 107.8h0M352.3 107.5h0M366.4 107.6h0M334.7 109.7h0M356.3 109.5h0M374.4 110.9h0M341.8 112.2h0M366.2 113h0M347.2 114.3h0M374.9 116h0M362.3 116.5h0M344.7 119.6h0M338.3 121.2h0M352 122.5h0M375.3 127.3h0M363 129.2h0M364.4 129.4h0M340.7 131h0M355.6 133.1h0M360.3 134.1h0M355.5 135h0M357.7 135.1h0M367 135.3h0M369.6 135.5h0M355.8 137.4h0M350.4 138h0M369.3 140.1h0M372 140.4h0M351.4 141.7h0M335.4 143.7h0M370.3 144.2h0M347.5 145.4h0M351 145.3h0M351.2 145h0M342.2 145.5h0M367 146.4h0M352.5 148.1h0M364.9 147.5h0M406.4 148.5h0M344.6 150.7h0M364.4 153.4h0M376.6 152.9h0M353.7 157.1h0M366.7 156.7h0M336.5 158.3h0M345.1 157.7h0M358.2 158.5h0M378.6 160.2h0M347.6 160.6h0M362.3 161.5h0M355.8 162h0M366.9 164.4h0M345.4 166.7h0M367.6 167h0M354.1 168.3h0M403 169h0M340.4 170.3h0M349.8 170h0M351.3 170.3h0M351.3 172.3h0M353.6 172.9h0M356.7 173.7h0M363.3 174h0M350.4 175.1h0M361.9 177.7h0M334.6 179.3h0M336.8 180.5h0M363.5 179.6h0M355.3 181.9h0M369.3 184.4h0M362.7 184.6h0" stroke="#111" stroke-width="1.4" stroke-linecap="square" fill="none"/>
<path d="M346.5 56.2h0M349.8 57.1h0M360.4 57h0M344.6 58.5h0M346.8 57.7h0M359.8 58.1h0M337.2 58.7h0M356 58.7h0M359.4 59.4h0M365.4 59h0M367.1 59.2h0M372.9 59.4h0M352 59.5h0M367.4 60.2h0M402.9 60.2h0M364.7 61h0M374.8 61.4h0M389.4 61.1h0M375.8 63h0M393.4 65.9h0M383.8 67.6h0M377.9 69.1h0M392.1 68.9h0M376.4 72.7h0M393.2 73.6h0M375.9 74.7h0M374.9 78.7h0M341.5 80.3h0M372.3 79.6h0M357.4 81.1h0M361 81.2h0M362.5 81.4h0M371.5 80.6h0M343.3 82.2h0M356.6 82.2h0M358.1 81.8h0M334.7 83.5h0M341 82.5h0M341.6 83h0M359.2 83.2h0M336.2 84.4h0M337.3 84.5h0M349.6 83.7h0M336 84.8h0M345.9 84.6h0M370.6 84.9h0M393 89.4h0M346.2 93h0M345.9 95h0M363.6 94.8h0M348.4 97.1h0M358.1 97.3h0M366.2 98h0M341.8 99.3h0M368.1 99.1h0M344.3 99.7h0M350.7 104.2h0M355.4 105.6h0M341.8 111.4h0M333.2 114.9h0M347.8 115.4h0M387.7 122.9h0M337.2 132.1h0M354.3 135.8h0M376.1 135.9h0M339.1 139.2h0M361.4 143.1h0M352.8 143.5h0M368.7 143.6h0M338 145.5h0M359 149.5h0M376.8 151.2h0M364 152h0M353.8 155.4h0M335 157.8h0M356.9 157.6h0M338 158.7h0M341.3 159h0M360.3 160.1h0M342.1 163.5h0M345 163.4h0M351.5 163.1h0M341.4 163.9h0M361.1 163.8h0M351.7 169.9h0M336.7 172.2h0M357.9 171.8h0M354.8 173.7h0M372.7 176.3h0M362.9 183.2h0" stroke="#444" stroke-width="1.4" stroke-linecap="square" fill="none"/>
<rect x="331.00" y="26.00" width="164.00" height="159.50" fill="none" stroke="#000" stroke-width="1.8"/>
<line x1="343.34" y1="185.50" x2="343.34" y2="188.00" stroke="#000" stroke-width="1.2"/>
<line x1="350.56" y1="185.50" x2="350.56" y2="188.00" stroke="#000" stroke-width="1.2"/>
<line x1="355.68" y1="185.50" x2="355.68" y2="188.00" stroke="#000" stroke-width="1.2"/>
<line x1="359.66" y1="185.50" x2="359.66" y2="188.00" stroke="#000" stroke-width="1.2"/>
<line x1="362.90" y1="185.50" x2="362.90" y2="188.00" stroke="#000" stroke-width="1.2"/>
<line x1="365.65" y1="185.50" x2="365.65" y2="188.00" stroke="#000" stroke-width="1.2"/>
<line x1="368.03" y1="185.50" x2="368.03" y2="188.00" stroke="#000" stroke-width="1.2"/>
<line x1="370.12" y1="185.50" x2="370.12" y2="188.00" stroke="#000" stroke-width="1.2"/>
<line x1="384.34" y1="185.50" x2="384.34" y2="188.00" stroke="#000" stroke-width="1.2"/>
<line x1="391.56" y1="185.50" x2="391.56" y2="188.00" stroke="#000" stroke-width="1.2"/>
<line x1="396.68" y1="185.50" x2="396.68" y2="188.00" stroke="#000" stroke-width="1.2"/>
<line x1="400.66" y1="185.50" x2="400.66" y2="188.00" stroke="#000" stroke-width="1.2"/>
<line x1="403.90" y1="185.50" x2="403.90" y2="188.00" stroke="#000" stroke-width="1.2"/>
<line x1="406.65" y1="185.50" x2="406.65" y2="188.00" stroke="#000" stroke-width="1.2"/>
<line x1="409.03" y1="185.50" x2="409.03" y2="188.00" stroke="#000" stroke-width="1.2"/>
<line x1="411.12" y1="185.50" x2="411.12" y2="188.00" stroke="#000" stroke-width="1.2"/>
<line x1="425.34" y1="185.50" x2="425.34" y2="188.00" stroke="#000" stroke-width="1.2"/>
<line x1="432.56" y1="185.50" x2="432.56" y2="188.00" stroke="#000" stroke-width="1.2"/>
<line x1="437.68" y1="185.50" x2="437.68" y2="188.00" stroke="#000" stroke-width="1.2"/>
<line x1="441.66" y1="185.50" x2="441.66" y2="188.00" stroke="#000" stroke-width="1.2"/>
<line x1="444.90" y1="185.50" x2="444.90" y2="188.00" stroke="#000" stroke-width="1.2"/>
<line x1="447.65" y1="185.50" x2="447.65" y2="188.00" stroke="#000" stroke-width="1.2"/>
<line x1="450.03" y1="185.50" x2="450.03" y2="188.00" stroke="#000" stroke-width="1.2"/>
<line x1="452.12" y1="185.50" x2="452.12" y2="188.00" stroke="#000" stroke-width="1.2"/>
<line x1="466.34" y1="185.50" x2="466.34" y2="188.00" stroke="#000" stroke-width="1.2"/>
<line x1="473.56" y1="185.50" x2="473.56" y2="188.00" stroke="#000" stroke-width="1.2"/>
<line x1="478.68" y1="185.50" x2="478.68" y2="188.00" stroke="#000" stroke-width="1.2"/>
<line x1="482.66" y1="185.50" x2="482.66" y2="188.00" stroke="#000" stroke-width="1.2"/>
<line x1="485.90" y1="185.50" x2="485.90" y2="188.00" stroke="#000" stroke-width="1.2"/>
<line x1="488.65" y1="185.50" x2="488.65" y2="188.00" stroke="#000" stroke-width="1.2"/>
<line x1="491.03" y1="185.50" x2="491.03" y2="188.00" stroke="#000" stroke-width="1.2"/>
<line x1="493.12" y1="185.50" x2="493.12" y2="188.00" stroke="#000" stroke-width="1.2"/>
<line x1="331.00" y1="185.50" x2="331.00" y2="190.00" stroke="#000" stroke-width="1.2"/>
<line x1="372.00" y1="185.50" x2="372.00" y2="190.00" stroke="#000" stroke-width="1.2"/>
<line x1="413.00" y1="185.50" x2="413.00" y2="190.00" stroke="#000" stroke-width="1.2"/>
<line x1="454.00" y1="185.50" x2="454.00" y2="190.00" stroke="#000" stroke-width="1.2"/>
<line x1="495.00" y1="185.50" x2="495.00" y2="190.00" stroke="#000" stroke-width="1.2"/>
<line x1="331.00" y1="173.50" x2="328.50" y2="173.50" stroke="#000" stroke-width="1.2"/>
<line x1="331.00" y1="166.47" x2="328.50" y2="166.47" stroke="#000" stroke-width="1.2"/>
<line x1="331.00" y1="161.49" x2="328.50" y2="161.49" stroke="#000" stroke-width="1.2"/>
<line x1="331.00" y1="157.63" x2="328.50" y2="157.63" stroke="#000" stroke-width="1.2"/>
<line x1="331.00" y1="154.47" x2="328.50" y2="154.47" stroke="#000" stroke-width="1.2"/>
<line x1="331.00" y1="151.80" x2="328.50" y2="151.80" stroke="#000" stroke-width="1.2"/>
<line x1="331.00" y1="149.49" x2="328.50" y2="149.49" stroke="#000" stroke-width="1.2"/>
<line x1="331.00" y1="147.45" x2="328.50" y2="147.45" stroke="#000" stroke-width="1.2"/>
<line x1="331.00" y1="133.62" x2="328.50" y2="133.62" stroke="#000" stroke-width="1.2"/>
<line x1="331.00" y1="126.60" x2="328.50" y2="126.60" stroke="#000" stroke-width="1.2"/>
<line x1="331.00" y1="121.62" x2="328.50" y2="121.62" stroke="#000" stroke-width="1.2"/>
<line x1="331.00" y1="117.75" x2="328.50" y2="117.75" stroke="#000" stroke-width="1.2"/>
<line x1="331.00" y1="114.60" x2="328.50" y2="114.60" stroke="#000" stroke-width="1.2"/>
<line x1="331.00" y1="111.93" x2="328.50" y2="111.93" stroke="#000" stroke-width="1.2"/>
<line x1="331.00" y1="109.61" x2="328.50" y2="109.61" stroke="#000" stroke-width="1.2"/>
<line x1="331.00" y1="107.57" x2="328.50" y2="107.57" stroke="#000" stroke-width="1.2"/>
<line x1="331.00" y1="93.75" x2="328.50" y2="93.75" stroke="#000" stroke-width="1.2"/>
<line x1="331.00" y1="86.72" x2="328.50" y2="86.72" stroke="#000" stroke-width="1.2"/>
<line x1="331.00" y1="81.74" x2="328.50" y2="81.74" stroke="#000" stroke-width="1.2"/>
<line x1="331.00" y1="77.88" x2="328.50" y2="77.88" stroke="#000" stroke-width="1.2"/>
<line x1="331.00" y1="74.72" x2="328.50" y2="74.72" stroke="#000" stroke-width="1.2"/>
<line x1="331.00" y1="72.05" x2="328.50" y2="72.05" stroke="#000" stroke-width="1.2"/>
<line x1="331.00" y1="69.74" x2="328.50" y2="69.74" stroke="#000" stroke-width="1.2"/>
<line x1="331.00" y1="67.70" x2="328.50" y2="67.70" stroke="#000" stroke-width="1.2"/>
<line x1="331.00" y1="53.87" x2="328.50" y2="53.87" stroke="#000" stroke-width="1.2"/>
<line x1="331.00" y1="46.85" x2="328.50" y2="46.85" stroke="#000" stroke-width="1.2"/>
<line x1="331.00" y1="41.87" x2="328.50" y2="41.87" stroke="#000" stroke-width="1.2"/>
<line x1="331.00" y1="38.00" x2="328.50" y2="38.00" stroke="#000" stroke-width="1.2"/>
<line x1="331.00" y1="34.85" x2="328.50" y2="34.85" stroke="#000" stroke-width="1.2"/>
<line x1="331.00" y1="32.18" x2="328.50" y2="32.18" stroke="#000" stroke-width="1.2"/>
<line x1="331.00" y1="29.86" x2="328.50" y2="29.86" stroke="#000" stroke-width="1.2"/>
<line x1="331.00" y1="27.82" x2="328.50" y2="27.82" stroke="#000" stroke-width="1.2"/>
<line x1="331.00" y1="185.50" x2="326.50" y2="185.50" stroke="#000" stroke-width="1.2"/>
<line x1="331.00" y1="145.62" x2="326.50" y2="145.62" stroke="#000" stroke-width="1.2"/>
<line x1="331.00" y1="105.75" x2="326.50" y2="105.75" stroke="#000" stroke-width="1.2"/>
<line x1="331.00" y1="65.88" x2="326.50" y2="65.88" stroke="#000" stroke-width="1.2"/>
<line x1="331.00" y1="26.00" x2="326.50" y2="26.00" stroke="#000" stroke-width="1.2"/>
<text transform="translate(331.50,201.50) scale(0.9,1)" font-family="'Liberation Sans', sans-serif" font-size="10.3" text-anchor="middle" stroke="#000" stroke-width="0.5">10<tspan dy="-5.6" dx="0.6">0</tspan></text>
<text transform="translate(323.50,185.30) rotate(-90) scale(0.82,1)" font-family="'Liberation Sans', sans-serif" font-size="10.5" text-anchor="middle" stroke="#000" stroke-width="0.5">10<tspan dy="-5.5" dx="1.8">0</tspan></text>
<text transform="translate(372.50,201.50) scale(0.9,1)" font-family="'Liberation Sans', sans-serif" font-size="10.3" text-anchor="middle" stroke="#000" stroke-width="0.5">10<tspan dy="-5.6" dx="0.6">1</tspan></text>
<text transform="translate(323.50,145.43) rotate(-90) scale(0.82,1)" font-family="'Liberation Sans', sans-serif" font-size="10.5" text-anchor="middle" stroke="#000" stroke-width="0.5">10<tspan dy="-5.5" dx="1.8">1</tspan></text>
<text transform="translate(413.50,201.50) scale(0.9,1)" font-family="'Liberation Sans', sans-serif" font-size="10.3" text-anchor="middle" stroke="#000" stroke-width="0.5">10<tspan dy="-5.6" dx="0.6">2</tspan></text>
<text transform="translate(323.50,105.55) rotate(-90) scale(0.82,1)" font-family="'Liberation Sans', sans-serif" font-size="10.5" text-anchor="middle" stroke="#000" stroke-width="0.5">10<tspan dy="-5.5" dx="1.8">2</tspan></text>
<text transform="translate(454.50,201.50) scale(0.9,1)" font-family="'Liberation Sans', sans-serif" font-size="10.3" text-anchor="middle" stroke="#000" stroke-width="0.5">10<tspan dy="-5.6" dx="0.6">3</tspan></text>
<text transform="translate(323.50,65.67) rotate(-90) scale(0.82,1)" font-family="'Liberation Sans', sans-serif" font-size="10.5" text-anchor="middle" stroke="#000" stroke-width="0.5">10<tspan dy="-5.5" dx="1.8">3</tspan></text>
<text transform="translate(495.50,201.50) scale(0.9,1)" font-family="'Liberation Sans', sans-serif" font-size="10.3" text-anchor="middle" stroke="#000" stroke-width="0.5">10<tspan dy="-5.6" dx="0.6">4</tspan></text>
<text transform="translate(323.50,25.80) rotate(-90) scale(0.82,1)" font-family="'Liberation Sans', sans-serif" font-size="10.5" text-anchor="middle" stroke="#000" stroke-width="0.5">10<tspan dy="-5.5" dx="1.8">4</tspan></text>
<line x1="379.60" y1="26.00" x2="379.60" y2="185.50" stroke="#000" stroke-width="1.6"/>
<line x1="331.00" y1="136.40" x2="495.00" y2="136.40" stroke="#000" stroke-width="1.9"/>
<path d="M97 340.5h5M76 341.5h2M95 341.5h12M75 342.5h4M86 342.5h1M89 342.5h20M74 343.5h39M72 344.5h41M69 345.5h47M69 346.5h48M69 347.5h48M69 348.5h49M69 349.5h49M69 350.5h49M69 351.5h49M135 351.5h3M69 352.5h50M135 352.5h4M69 353.5h50M135 353.5h3M69 354.5h50M135 354.5h3M69 355.5h49M136 355.5h2M69 356.5h48M69 357.5h48M69 358.5h48M69 359.5h48M69 360.5h49M69 361.5h49M69 362.5h49M69 363.5h49M69 364.5h49M69 365.5h49M69 366.5h49M69 367.5h49M69 368.5h49M69 369.5h49M69 370.5h49M69 371.5h48M69 372.5h48M69 373.5h47M69 374.5h47M69 375.5h41M112 375.5h4M72 376.5h17M90 376.5h19M113 376.5h3M79 377.5h3M92 377.5h4M98 377.5h3M104 377.5h5M113 377.5h2M80 378.5h1M92 378.5h4M99 378.5h1M108 378.5h6M92 379.5h4M100 379.5h1M108 379.5h6M92 380.5h4M107 380.5h7M92 381.5h4M108 381.5h1M112 381.5h3M91 382.5h5M102 382.5h2M113 382.5h3M90 383.5h6M101 383.5h3M112 383.5h3M90 384.5h6M100 384.5h3M110 384.5h5" stroke="#000" stroke-width="1.05" fill="none"/>
<path d="M144.8 329.3h0M135.7 330.2h0M150.3 331.1h0M144.5 333.5h0M88.2 334.2h0M98.7 334.5h0M102.3 333.9h0M162.7 334.1h0M93.6 335.3h0M100.8 335.2h0M101.9 335.1h0M111.5 335.1h0M135.5 334.6h0M90.7 336h0M98.3 336.1h0M101.4 336.1h0M105.9 335.7h0M74.7 337.2h0M87.3 336.7h0M96.5 337.2h0M97.7 337.1h0M98.9 337.3h0M102.9 337.4h0M104.7 337.4h0M84.1 337.9h0M104 337.7h0M107.9 338.2h0M85.6 339h0M89.6 338.5h0M95.4 339.3h0M97 339.4h0M97.7 339.2h0M98.2 339.3h0M99.9 338.6h0M101.3 339h0M101.5 339h0M108.7 338.9h0M144.9 339.1h0M76.6 340.5h0M88.5 340h0M91.3 339.8h0M93.8 339.5h0M100.1 339.7h0M155 340.4h0M78.1 341.4h0M85.4 341.1h0M80.4 341.7h0M81.2 342.2h0M87.1 342.3h0M107.2 342h0M110.1 342.3h0M111.5 342h0M134.2 342.4h0M149.5 342.5h0M111.2 342.9h0M135.8 343.1h0M145.4 342.9h0M73.8 343.8h0M134 344.3h0M168 344.2h0M69.6 344.9h0M119.4 345.1h0M117.1 346.2h0M117.3 345.6h0M128.3 346.1h0M132.7 345.8h0M136 346.4h0M136.2 346.2h0M146.5 345.9h0M152 345.8h0M131.3 347.5h0M132.6 347.4h0M132.7 347h0M134.6 346.7h0M144.7 346.8h0M151.3 347.1h0M152.3 347.5h0M154.5 347.1h0M130 347.9h0M134.2 348h0M141 347.7h0M142.9 348.3h0M146.4 348.1h0M155.6 347.7h0M132.6 349.3h0M137 348.6h0M146.1 349.2h0M147.3 349.3h0M148.2 348.9h0M118.9 350.3h0M134.5 349.9h0M135.1 350h0M144.3 350.5h0M128.2 351.4h0M131.8 350.6h0M147.4 350.9h0M149.5 350.9h0M155.3 350.6h0M132.8 351.7h0M134.3 352.2h0M143 351.8h0M147.1 352.1h0M144.1 353.3h0M148.5 353.2h0M163.7 353.2h0M134.5 353.8h0M144.7 354.3h0M145.2 353.9h0M146 354.2h0M148.8 354.4h0M150.1 354.1h0M156.7 354.2h0M134.7 355.3h0M138.8 355.1h0M146.5 355.4h0M149.1 355.3h0M153.2 355.4h0M118.7 355.7h0M119.2 355.7h0M126.5 355.8h0M137 356.3h0M142.1 356.1h0M144.8 355.9h0M150.2 356.1h0M152.2 356.2h0M152.6 355.7h0M131.3 357h0M134.4 357.1h0M137.9 356.5h0M139.3 357.2h0M140.5 357.3h0M151.8 356.6h0M152.8 357.5h0M153.6 357h0M132.5 357.8h0M133.7 358.3h0M136.7 358.4h0M149.8 358.2h0M152.1 358h0M154 357.8h0M155 357.9h0M172.7 358h0M131.9 358.5h0M132.7 359.3h0M137.9 358.9h0M139 358.9h0M145.1 358.9h0M148.2 358.9h0M151.4 359.1h0M162.4 358.7h0M165.2 358.5h0M117.4 359.6h0M148.9 359.6h0M155.6 360h0M156.9 359.7h0M166.7 359.6h0M118.1 361.2h0M129.4 360.8h0M139.7 360.8h0M145.8 361.1h0M128.3 362h0M140.9 362h0M149.2 361.8h0M150.3 361.8h0M157.9 361.8h0M176.5 361.8h0M145.8 363.5h0M150.1 363.1h0M171.9 363.1h0M118.9 363.8h0M129 363.6h0M135.6 364.2h0M147.4 363.9h0M170.8 363.8h0M118.5 364.9h0M127.4 364.9h0M141.4 365.3h0M147.3 364.7h0M189 364.9h0M120.9 365.9h0M143.3 366.3h0M139.6 366.7h0M148.2 366.7h0M154.7 366.6h0M159.5 367.1h0M139.4 368.4h0M140.6 368.4h0M143.1 368.2h0M164.8 368h0M119 369.3h0M129.2 368.9h0M150.9 369.1h0M151.4 368.8h0M154.6 368.7h0M159.6 369h0M172.2 369h0M136.8 369.5h0M145.8 369.8h0M155.1 370.8h0M127.4 371.5h0M154.6 372.2h0M163.4 372.1h0M168.8 372.2h0M133.3 372.7h0M165.9 373.3h0M192.5 374.4h0M142.6 375.3h0M143.5 375.3h0M175.6 375.3h0M112.2 376.2h0M73.1 377.2h0M97.9 377.3h0M103.9 377.2h0M72.3 377.6h0M76.6 377.5h0M86.1 377.9h0M96.6 377.9h0M97.4 378.2h0M102.8 378.4h0M105.4 378.4h0M109.8 377.6h0M114.3 378.5h0M146.8 378h0M152.2 377.9h0M185.5 377.8h0M73.5 378.6h0M74.4 379.1h0M74.5 378.9h0M98.5 378.8h0M99.8 379.1h0M107.6 379.3h0M79.3 380.2h0M89.8 379.6h0M91.2 380.4h0M101.9 380.3h0M104.6 380.1h0M73.3 380.8h0M81.5 381h0M92 381.1h0M97.5 380.7h0M102.7 381h0M103.3 381.1h0M107.6 381h0M111.7 381.3h0M116.7 381.5h0M153.4 381.4h0M72.9 381.9h0M90.1 381.6h0M96.8 381.6h0M96.9 382.2h0M104.9 381.9h0M115 382h0M71.4 382.6h0M71.8 383h0M75.8 382.7h0M82.7 382.5h0M96.2 383h0M99 383h0M100.3 382.6h0M100.6 383.1h0M105 382.7h0M105.1 383.2h0M146.2 383.2h0M150.3 383.4h0M69.9 383.9h0M72.3 384.1h0M72.5 383.9h0M73.4 384.4h0M74.5 383.6h0M79.4 383.9h0M80.6 383.8h0M84.8 384.4h0M99.3 384.3h0M104.6 383.5h0M109.6 384.4h0M111 383.7h0M70.2 385h0M72.9 385.3h0M78.1 385.3h0M79.2 384.5h0M80.8 384.5h0M81 384.9h0M81.4 385.3h0M83.8 384.9h0M89.4 385.4h0M89.8 384.8h0M97 384.5h0M100.7 385.1h0M102.8 385.2h0M108.3 384.8h0M109.5 385h0M111.1 385.5h0M70 385.6h0M73.5 385.8h0M86.8 385.6h0M86.8 386.4h0M91.4 386.2h0M92.7 385.7h0M112.5 385.7h0M113.3 386h0M119.4 385.7h0M72.9 386.8h0M79.8 387.2h0M80.9 386.6h0M81.6 386.9h0M102.5 387.4h0M111.3 386.8h0M111.7 387.2h0M113.7 387.2h0M82.4 388.2h0M88 387.8h0M91.6 388h0M140.6 388h0M73.6 388.5h0M102.1 388.7h0M100.8 390.4h0M108.2 389.9h0M117.1 390.2h0M135.1 390.4h0M106.2 390.8h0M109 390.6h0M141.8 390.5h0M79.9 392.4h0M106.5 392h0M111.3 391.8h0M104.9 392.6h0M109.3 393.1h0M150.8 392.7h0M178.4 393.3h0M79.3 394.4h0M80.7 394.1h0M95.9 393.7h0M113.2 393.7h0M117.3 393.6h0M125.3 394.1h0M137.6 394.4h0M69.6 395.4h0M103.9 395.1h0M70.1 395.6h0M82.9 395.6h0M97.1 396.3h0M117.5 395.8h0M119.3 396.5h0M81.6 397.1h0M90 396.8h0M101.3 396.7h0M138 396.6h0M171.2 397.3h0M101.1 398.4h0M104.1 398.3h0M106.7 397.6h0M110.3 398.3h0M118.2 398.5h0M74.4 398.6h0M112.1 398.7h0M164.2 398.8h0M165.1 399.5h0M105.1 401.2h0M104.8 402.3h0M109.4 402h0M93.7 402.9h0M131.6 403.3h0M167.3 403.2h0M92.7 403.8h0M93.9 403.8h0M127.7 404.3h0M98.8 405.1h0M93.2 405.8h0M97 406.5h0M115 406h0M77.2 407.1h0M86.8 406.6h0M100.4 407h0M72.5 408.3h0M96.8 407.9h0M70.2 409.2h0M155.4 408.7h0M75.8 410h0M81.5 409.6h0M97.1 409.9h0M99.4 410.4h0M116.9 410.5h0M90.9 412.3h0M109 411.9h0M82.9 415.3h0M145.8 418.5h0M77.9 418.8h0M106.5 423.3h0M118.2 423.7h0M75.9 425.4h0M109.5 425.7h0M103.4 427.5h0M130.7 429h0M100.2 437.3h0M112.9 436.5h0M87.4 438.5h0M185.3 439.1h0M75.2 441.1h0M105.5 442.7h0M100.4 444.3h0M74 444.7h0M114.2 444.9h0M123.5 444.7h0M101 447.1h0M95.8 448.2h0M188.4 449.7h0M121.6 452.9h0M108.9 456.9h0M153.4 457h0M125.1 459.6h0" stroke="#111" stroke-width="1.4" stroke-linecap="square" fill="none"/>
<path d="M125.6 324.5h0M110 330.6h0M124 333.7h0M151.8 334.3h0M77.8 335.8h0M104.2 336.2h0M135.8 335.6h0M91.9 337.1h0M94.4 337.1h0M116.2 336.9h0M132.7 336.6h0M138.6 337.1h0M93.2 337.6h0M94.1 338.2h0M144 337.6h0M152.2 338.3h0M74.1 339.1h0M78.1 339.4h0M98.4 338.7h0M94.1 340.3h0M99.5 340h0M114.6 339.6h0M133.6 340h0M75.1 341.3h0M96.8 341h0M134.5 340.6h0M132.9 341.5h0M138.9 342.7h0M118.5 344.5h0M143.7 344.1h0M125.5 345h0M131.6 344.9h0M151.9 344.9h0M144.7 345.7h0M117.2 347.3h0M121.6 347.4h0M128.2 347.5h0M134.6 347.4h0M135.4 348.2h0M147.9 347.7h0M126.9 348.6h0M127.4 348.8h0M146.6 350.4h0M149.1 349.8h0M157.5 349.7h0M128.7 350.9h0M126.8 352.2h0M139.7 352.5h0M149.2 351.8h0M121.7 352.8h0M128.9 352.7h0M154.6 353.1h0M138.3 354.1h0M129.6 355.5h0M134.1 354.9h0M142.1 355h0M149.7 354.7h0M129.7 356.1h0M134.4 356h0M139.1 355.8h0M143.2 355.5h0M145.6 356.2h0M150 355.5h0M144.5 357.2h0M148.5 357.1h0M138.8 357.6h0M151.9 358.2h0M131.8 359.4h0M138.2 359h0M140.4 359h0M155.4 359.5h0M140.4 360.1h0M140.6 359.8h0M146.5 360.3h0M154.4 360.2h0M154.7 361.2h0M137.5 362.3h0M140.4 362.4h0M141 363.2h0M135.7 363.9h0M126.5 364.6h0M152.7 365h0M126.9 365.6h0M129.8 366.3h0M132 367.2h0M130.6 367.8h0M149.9 367.6h0M135.7 369.2h0M117.9 371.1h0M119.4 370.8h0M148.1 373.8h0M148.4 375.7h0M71.6 376.6h0M89.3 377.1h0M74.3 378h0M77.4 377.9h0M79.5 378.2h0M101.1 378.2h0M107.3 378.5h0M91.1 378.6h0M100.7 378.8h0M96.4 379.7h0M101 380.3h0M103 380h0M96.7 380.7h0M105.6 381.5h0M90.5 382.1h0M104.4 382.4h0M107.8 382.3h0M79.2 382.9h0M112.9 383h0M172.8 383.4h0M70.1 384.1h0M83.2 383.7h0M103.1 384.8h0M179.4 384.8h0M87.8 385.8h0M93.9 385.8h0M101.6 385.9h0M105.1 385.6h0M112.4 386h0M94.9 386.9h0M70.8 388.4h0M81 387.9h0M87.4 388.1h0M93.4 387.8h0M85 388.7h0M107.9 389.8h0M72.5 390.5h0M108.8 391.3h0M106.2 392.6h0M93 394.2h0M105.1 395.1h0M115.5 395.7h0M120 396.7h0M102.5 397.5h0M102.6 398h0M108.7 398.3h0M98.6 400.5h0M99.9 401.4h0M114.2 401h0M175.6 401.4h0M106.5 402.2h0M95.9 406.3h0M104.7 407.3h0M88.9 408.3h0M91.7 410.2h0M104.9 410.2h0M80.4 415.9h0M85.6 422h0M82.7 423.6h0M166.3 429.1h0M98.1 436.2h0M96.4 440.9h0M115 447.7h0M106.8 448.9h0M98.3 455.7h0M71.9 456.8h0" stroke="#444" stroke-width="1.4" stroke-linecap="square" fill="none"/>
<rect x="69.00" y="300.00" width="164.00" height="161.00" fill="none" stroke="#000" stroke-width="1.8"/>
<line x1="81.34" y1="461.00" x2="81.34" y2="463.50" stroke="#000" stroke-width="1.2"/>
<line x1="88.56" y1="461.00" x2="88.56" y2="463.50" stroke="#000" stroke-width="1.2"/>
<line x1="93.68" y1="461.00" x2="93.68" y2="463.50" stroke="#000" stroke-width="1.2"/>
<line x1="97.66" y1="461.00" x2="97.66" y2="463.50" stroke="#000" stroke-width="1.2"/>
<line x1="100.90" y1="461.00" x2="100.90" y2="463.50" stroke="#000" stroke-width="1.2"/>
<line x1="103.65" y1="461.00" x2="103.65" y2="463.50" stroke="#000" stroke-width="1.2"/>
<line x1="106.03" y1="461.00" x2="106.03" y2="463.50" stroke="#000" stroke-width="1.2"/>
<line x1="108.12" y1="461.00" x2="108.12" y2="463.50" stroke="#000" stroke-width="1.2"/>
<line x1="122.34" y1="461.00" x2="122.34" y2="463.50" stroke="#000" stroke-width="1.2"/>
<line x1="129.56" y1="461.00" x2="129.56" y2="463.50" stroke="#000" stroke-width="1.2"/>
<line x1="134.68" y1="461.00" x2="134.68" y2="463.50" stroke="#000" stroke-width="1.2"/>
<line x1="138.66" y1="461.00" x2="138.66" y2="463.50" stroke="#000" stroke-width="1.2"/>
<line x1="141.90" y1="461.00" x2="141.90" y2="463.50" stroke="#000" stroke-width="1.2"/>
<line x1="144.65" y1="461.00" x2="144.65" y2="463.50" stroke="#000" stroke-width="1.2"/>
<line x1="147.03" y1="461.00" x2="147.03" y2="463.50" stroke="#000" stroke-width="1.2"/>
<line x1="149.12" y1="461.00" x2="149.12" y2="463.50" stroke="#000" stroke-width="1.2"/>
<line x1="163.34" y1="461.00" x2="163.34" y2="463.50" stroke="#000" stroke-width="1.2"/>
<line x1="170.56" y1="461.00" x2="170.56" y2="463.50" stroke="#000" stroke-width="1.2"/>
<line x1="175.68" y1="461.00" x2="175.68" y2="463.50" stroke="#000" stroke-width="1.2"/>
<line x1="179.66" y1="461.00" x2="179.66" y2="463.50" stroke="#000" stroke-width="1.2"/>
<line x1="182.90" y1="461.00" x2="182.90" y2="463.50" stroke="#000" stroke-width="1.2"/>
<line x1="185.65" y1="461.00" x2="185.65" y2="463.50" stroke="#000" stroke-width="1.2"/>
<line x1="188.03" y1="461.00" x2="188.03" y2="463.50" stroke="#000" stroke-width="1.2"/>
<line x1="190.12" y1="461.00" x2="190.12" y2="463.50" stroke="#000" stroke-width="1.2"/>
<line x1="204.34" y1="461.00" x2="204.34" y2="463.50" stroke="#000" stroke-width="1.2"/>
<line x1="211.56" y1="461.00" x2="211.56" y2="463.50" stroke="#000" stroke-width="1.2"/>
<line x1="216.68" y1="461.00" x2="216.68" y2="463.50" stroke="#000" stroke-width="1.2"/>
<line x1="220.66" y1="461.00" x2="220.66" y2="463.50" stroke="#000" stroke-width="1.2"/>
<line x1="223.90" y1="461.00" x2="223.90" y2="463.50" stroke="#000" stroke-width="1.2"/>
<line x1="226.65" y1="461.00" x2="226.65" y2="463.50" stroke="#000" stroke-width="1.2"/>
<line x1="229.03" y1="461.00" x2="229.03" y2="463.50" stroke="#000" stroke-width="1.2"/>
<line x1="231.12" y1="461.00" x2="231.12" y2="463.50" stroke="#000" stroke-width="1.2"/>
<line x1="69.00" y1="461.00" x2="69.00" y2="465.50" stroke="#000" stroke-width="1.2"/>
<line x1="110.00" y1="461.00" x2="110.00" y2="465.50" stroke="#000" stroke-width="1.2"/>
<line x1="151.00" y1="461.00" x2="151.00" y2="465.50" stroke="#000" stroke-width="1.2"/>
<line x1="192.00" y1="461.00" x2="192.00" y2="465.50" stroke="#000" stroke-width="1.2"/>
<line x1="233.00" y1="461.00" x2="233.00" y2="465.50" stroke="#000" stroke-width="1.2"/>
<line x1="69.00" y1="448.88" x2="66.50" y2="448.88" stroke="#000" stroke-width="1.2"/>
<line x1="69.00" y1="441.80" x2="66.50" y2="441.80" stroke="#000" stroke-width="1.2"/>
<line x1="69.00" y1="436.77" x2="66.50" y2="436.77" stroke="#000" stroke-width="1.2"/>
<line x1="69.00" y1="432.87" x2="66.50" y2="432.87" stroke="#000" stroke-width="1.2"/>
<line x1="69.00" y1="429.68" x2="66.50" y2="429.68" stroke="#000" stroke-width="1.2"/>
<line x1="69.00" y1="426.98" x2="66.50" y2="426.98" stroke="#000" stroke-width="1.2"/>
<line x1="69.00" y1="424.65" x2="66.50" y2="424.65" stroke="#000" stroke-width="1.2"/>
<line x1="69.00" y1="422.59" x2="66.50" y2="422.59" stroke="#000" stroke-width="1.2"/>
<line x1="69.00" y1="408.63" x2="66.50" y2="408.63" stroke="#000" stroke-width="1.2"/>
<line x1="69.00" y1="401.55" x2="66.50" y2="401.55" stroke="#000" stroke-width="1.2"/>
<line x1="69.00" y1="396.52" x2="66.50" y2="396.52" stroke="#000" stroke-width="1.2"/>
<line x1="69.00" y1="392.62" x2="66.50" y2="392.62" stroke="#000" stroke-width="1.2"/>
<line x1="69.00" y1="389.43" x2="66.50" y2="389.43" stroke="#000" stroke-width="1.2"/>
<line x1="69.00" y1="386.73" x2="66.50" y2="386.73" stroke="#000" stroke-width="1.2"/>
<line x1="69.00" y1="384.40" x2="66.50" y2="384.40" stroke="#000" stroke-width="1.2"/>
<line x1="69.00" y1="382.34" x2="66.50" y2="382.34" stroke="#000" stroke-width="1.2"/>
<line x1="69.00" y1="368.38" x2="66.50" y2="368.38" stroke="#000" stroke-width="1.2"/>
<line x1="69.00" y1="361.30" x2="66.50" y2="361.30" stroke="#000" stroke-width="1.2"/>
<line x1="69.00" y1="356.27" x2="66.50" y2="356.27" stroke="#000" stroke-width="1.2"/>
<line x1="69.00" y1="352.37" x2="66.50" y2="352.37" stroke="#000" stroke-width="1.2"/>
<line x1="69.00" y1="349.18" x2="66.50" y2="349.18" stroke="#000" stroke-width="1.2"/>
<line x1="69.00" y1="346.48" x2="66.50" y2="346.48" stroke="#000" stroke-width="1.2"/>
<line x1="69.00" y1="344.15" x2="66.50" y2="344.15" stroke="#000" stroke-width="1.2"/>
<line x1="69.00" y1="342.09" x2="66.50" y2="342.09" stroke="#000" stroke-width="1.2"/>
<line x1="69.00" y1="328.13" x2="66.50" y2="328.13" stroke="#000" stroke-width="1.2"/>
<line x1="69.00" y1="321.05" x2="66.50" y2="321.05" stroke="#000" stroke-width="1.2"/>
<line x1="69.00" y1="316.02" x2="66.50" y2="316.02" stroke="#000" stroke-width="1.2"/>
<line x1="69.00" y1="312.12" x2="66.50" y2="312.12" stroke="#000" stroke-width="1.2"/>
<line x1="69.00" y1="308.93" x2="66.50" y2="308.93" stroke="#000" stroke-width="1.2"/>
<line x1="69.00" y1="306.23" x2="66.50" y2="306.23" stroke="#000" stroke-width="1.2"/>
<line x1="69.00" y1="303.90" x2="66.50" y2="303.90" stroke="#000" stroke-width="1.2"/>
<line x1="69.00" y1="301.84" x2="66.50" y2="301.84" stroke="#000" stroke-width="1.2"/>
<line x1="69.00" y1="461.00" x2="64.50" y2="461.00" stroke="#000" stroke-width="1.2"/>
<line x1="69.00" y1="420.75" x2="64.50" y2="420.75" stroke="#000" stroke-width="1.2"/>
<line x1="69.00" y1="380.50" x2="64.50" y2="380.50" stroke="#000" stroke-width="1.2"/>
<line x1="69.00" y1="340.25" x2="64.50" y2="340.25" stroke="#000" stroke-width="1.2"/>
<line x1="69.00" y1="300.00" x2="64.50" y2="300.00" stroke="#000" stroke-width="1.2"/>
<text transform="translate(69.50,477.00) scale(0.9,1)" font-family="'Liberation Sans', sans-serif" font-size="10.3" text-anchor="middle" stroke="#000" stroke-width="0.5">10<tspan dy="-5.6" dx="0.6">0</tspan></text>
<text transform="translate(61.50,460.80) rotate(-90) scale(0.82,1)" font-family="'Liberation Sans', sans-serif" font-size="10.5" text-anchor="middle" stroke="#000" stroke-width="0.5">10<tspan dy="-5.5" dx="1.8">0</tspan></text>
<text transform="translate(110.50,477.00) scale(0.9,1)" font-family="'Liberation Sans', sans-serif" font-size="10.3" text-anchor="middle" stroke="#000" stroke-width="0.5">10<tspan dy="-5.6" dx="0.6">1</tspan></text>
<text transform="translate(61.50,420.55) rotate(-90) scale(0.82,1)" font-family="'Liberation Sans', sans-serif" font-size="10.5" text-anchor="middle" stroke="#000" stroke-width="0.5">10<tspan dy="-5.5" dx="1.8">1</tspan></text>
<text transform="translate(151.50,477.00) scale(0.9,1)" font-family="'Liberation Sans', sans-serif" font-size="10.3" text-anchor="middle" stroke="#000" stroke-width="0.5">10<tspan dy="-5.6" dx="0.6">2</tspan></text>
<text transform="translate(61.50,380.30) rotate(-90) scale(0.82,1)" font-family="'Liberation Sans', sans-serif" font-size="10.5" text-anchor="middle" stroke="#000" stroke-width="0.5">10<tspan dy="-5.5" dx="1.8">2</tspan></text>
<text transform="translate(192.50,477.00) scale(0.9,1)" font-family="'Liberation Sans', sans-serif" font-size="10.3" text-anchor="middle" stroke="#000" stroke-width="0.5">10<tspan dy="-5.6" dx="0.6">3</tspan></text>
<text transform="translate(61.50,340.05) rotate(-90) scale(0.82,1)" font-family="'Liberation Sans', sans-serif" font-size="10.5" text-anchor="middle" stroke="#000" stroke-width="0.5">10<tspan dy="-5.5" dx="1.8">3</tspan></text>
<text transform="translate(233.50,477.00) scale(0.9,1)" font-family="'Liberation Sans', sans-serif" font-size="10.3" text-anchor="middle" stroke="#000" stroke-width="0.5">10<tspan dy="-5.6" dx="0.6">4</tspan></text>
<text transform="translate(61.50,299.80) rotate(-90) scale(0.82,1)" font-family="'Liberation Sans', sans-serif" font-size="10.5" text-anchor="middle" stroke="#000" stroke-width="0.5">10<tspan dy="-5.5" dx="1.8">4</tspan></text>
<line x1="116.30" y1="300.00" x2="116.30" y2="461.00" stroke="#000" stroke-width="1.6"/>
<line x1="69.00" y1="412.80" x2="233.00" y2="412.80" stroke="#000" stroke-width="1.9"/>
<path d="M399 372.5h2M399 373.5h2M399 374.5h2M370 401.5h3M370 402.5h3M364 403.5h2M371 403.5h2M364 404.5h3M365 405.5h2M352 406.5h2M352 407.5h2M345 409.5h8M359 409.5h4M332 410.5h1M343 410.5h11M355 410.5h2M358 410.5h6M375 410.5h4M343 411.5h21M365 411.5h3M376 411.5h3M337 412.5h3M343 412.5h6M350 412.5h18M377 412.5h1M332 413.5h37M332 414.5h38M332 415.5h38M332 416.5h39M332 417.5h39M332 418.5h39M376 418.5h2M332 419.5h39M376 419.5h2M332 420.5h39M376 420.5h2M332 421.5h39M376 421.5h2M332 422.5h39M377 422.5h1M332 423.5h39M332 424.5h39M332 425.5h39M332 426.5h39M376 426.5h3M332 427.5h39M376 427.5h3M332 428.5h40M376 428.5h3M332 429.5h40M377 429.5h1M332 430.5h40M332 431.5h40M332 432.5h39M332 433.5h39M332 434.5h39M332 435.5h39M332 436.5h39M332 437.5h39M332 438.5h39M332 439.5h38M371 439.5h2M375 439.5h1M332 440.5h38M371 440.5h5M332 441.5h38M371 441.5h5M377 441.5h1M332 442.5h38M374 442.5h1M377 442.5h1M332 443.5h38M332 444.5h39M332 445.5h39M332 446.5h39M332 447.5h39M332 448.5h39M332 449.5h39M332 450.5h39M377 450.5h1M332 451.5h38M376 451.5h2M332 452.5h38M377 452.5h1M332 453.5h39M332 454.5h39M374 454.5h1M332 455.5h40M332 456.5h39M332 457.5h39M332 458.5h37M332 459.5h37M375 459.5h1M332 460.5h36" stroke="#000" stroke-width="1.05" fill="none"/>
<path d="M424 324.2h0M422.6 347.6h0M395.6 351.9h0M416 355.3h0M431.6 355h0M417.5 357.3h0M401.6 358.2h0M412.5 360.2h0M414.1 360.1h0M401.9 361h0M416.6 360.5h0M409.9 361.6h0M410.1 362.1h0M410.4 363.5h0M404.1 365.1h0M407.4 365.7h0M413.3 367h0M398.7 367.5h0M401 368.5h0M402 367.9h0M406 368.3h0M418.7 368.4h0M407.7 368.9h0M409.3 369.1h0M405.4 370.4h0M407.7 370.4h0M410.2 370h0M411.9 370.5h0M399.7 371.4h0M400.4 370.9h0M402.1 370.6h0M404.9 370.8h0M394.4 371.7h0M397.2 373.4h0M398.5 373.1h0M402.2 372.7h0M403.2 372.9h0M398 374.7h0M393.6 376.2h0M399.1 376.4h0M399.2 375.8h0M400.1 376.1h0M389 377.4h0M397.2 378.2h0M391.1 378.7h0M392.3 378.9h0M401.9 378.6h0M402.4 379.3h0M414.4 378.7h0M388.7 379.7h0M394.1 380.1h0M398.2 380.3h0M400.7 379.7h0M401.9 379.8h0M403 380.4h0M405.1 379.8h0M407.3 379.5h0M422.6 380.4h0M390.3 381.2h0M395.8 381.4h0M396.8 381.1h0M399 381.2h0M382.2 382.3h0M383.9 381.9h0M393.5 382.2h0M342.3 382.7h0M391.2 382.9h0M392.3 383.2h0M399.8 383.2h0M401.2 382.9h0M404.5 382.7h0M363.8 384.1h0M381.5 383.9h0M386.3 383.5h0M387.9 384h0M393.6 384.1h0M402.6 384.1h0M413.8 384.2h0M378 385.3h0M387.1 384.6h0M392 385.4h0M403.4 385.1h0M337.2 386.3h0M349.6 385.5h0M370 386.5h0M393.7 385.9h0M402.3 386.3h0M337.1 387.2h0M344.4 387.4h0M345.4 387.1h0M362.3 386.7h0M364 386.9h0M394.4 386.7h0M404.4 387.2h0M351.5 387.6h0M354.9 388.4h0M364.7 388.1h0M375.9 388.3h0M390.8 388h0M391.8 388.2h0M390.6 388.8h0M398.4 389.3h0M341.5 390h0M355.3 389.9h0M392.3 390.5h0M346 391.4h0M389.3 390.8h0M390.2 391.4h0M390.7 390.6h0M333 392.2h0M370 392h0M336.8 392.5h0M340.7 392.7h0M347.4 393.3h0M347.9 392.9h0M378.8 393.4h0M393.1 392.6h0M332.6 394h0M343.8 393.7h0M372.7 393.5h0M384.7 394h0M391.1 394.3h0M356.5 395.1h0M359.2 394.9h0M386.6 394.9h0M337.2 395.8h0M342.9 396.4h0M349.4 396.5h0M354.1 395.9h0M368.5 396.2h0M337.8 396.8h0M357.9 396.7h0M359.7 397.5h0M361.1 397h0M361.9 397.3h0M369.1 397.3h0M375.8 396.7h0M377.3 396.5h0M379.2 397.2h0M384.6 397h0M340.6 397.8h0M375.4 398.3h0M378.8 397.9h0M338.4 399.2h0M340 398.7h0M359.5 398.5h0M362.9 399h0M344.3 400.4h0M358.7 400.5h0M359.5 400.2h0M359.8 399.5h0M364.2 399.6h0M372.4 400.4h0M372.7 399.8h0M375.5 400.5h0M350.2 401.5h0M362.6 401.3h0M363.1 401.1h0M368.9 401.2h0M370.9 401h0M339.1 401.5h0M341.5 402.5h0M342.2 402.2h0M343.6 401.6h0M365.8 401.7h0M367.1 402.2h0M369.1 401.7h0M373.8 402.4h0M337.6 402.6h0M346.5 402.6h0M374.8 402.8h0M375.9 403.4h0M388.3 402.7h0M343.2 403.8h0M348.9 403.5h0M361.5 403.8h0M363.2 404h0M368.5 404.3h0M373.1 404h0M343.5 404.5h0M344.5 404.8h0M345.9 405.2h0M346.2 405.3h0M351.8 404.6h0M363.3 405h0M377.2 405.4h0M378.2 404.7h0M343.4 405.6h0M345.5 406.1h0M348.7 406.1h0M349 405.9h0M351.4 406h0M355.3 405.7h0M356.4 405.5h0M357.9 405.9h0M368.1 405.7h0M372 405.6h0M396.5 406.3h0M341.7 406.7h0M348.1 407.4h0M349.8 407.1h0M350.2 406.9h0M354.5 407h0M360.5 407h0M363.2 407.5h0M366.8 406.7h0M368.9 407.4h0M370.5 406.6h0M372.4 406.7h0M347.5 407.6h0M348.4 408.1h0M351.7 408.3h0M353.8 408.2h0M355.1 408.1h0M355.8 407.6h0M369.3 408h0M379.7 407.5h0M386.1 408.4h0M333.8 409.3h0M334.8 408.9h0M343.8 408.6h0M347.1 408.8h0M355 408.9h0M355.4 409.3h0M361.8 408.8h0M371 408.6h0M333.6 410.4h0M335.5 410h0M337.4 409.6h0M344.1 409.9h0M363.4 409.7h0M377.9 409.6h0M333.6 411.2h0M334.3 410.7h0M337 410.8h0M333.8 412.2h0M336.7 412.3h0M342.2 411.6h0M375.6 412.3h0M378.9 412.2h0M379.2 412.5h0M342.4 412.6h0M373.2 412.5h0M374.7 412.6h0M372.4 414h0M374.9 413.9h0M378.3 414.3h0M378.6 413.9h0M397.9 414.2h0M375.6 414.5h0M436.7 414.8h0M370.1 415.5h0M372.5 416.5h0M439.7 415.5h0M417 416.6h0M378.7 418.5h0M374.5 421h0M375.2 420.6h0M375.3 421.4h0M378.4 420.6h0M374 422.2h0M374.3 421.9h0M378 421.7h0M378.4 422h0M371.2 423.3h0M379 423.2h0M372.5 423.8h0M373.7 424.2h0M377.3 424.1h0M397.1 424.3h0M376.2 425.9h0M371.8 427.4h0M372.4 427.3h0M373.7 428h0M379.2 427.7h0M373 429.2h0M375.8 428.7h0M433.1 429.5h0M376.7 429.7h0M373 430.8h0M372.1 431.7h0M372.6 433.2h0M374.8 433h0M372.1 435.4h0M373.5 436h0M375 436.4h0M378.1 435.6h0M372.9 437.4h0M376.5 436.9h0M372.9 438.3h0M376.2 437.9h0M373.6 439.3h0M370.7 439.7h0M376.8 441h0M375.6 442.3h0M376.1 442.2h0M376.7 441.8h0M379.4 442.2h0M370.8 443h0M374.8 443.2h0M375.4 443.4h0M377.5 443h0M414.1 443h0M425.1 442.7h0M371.9 443.7h0M376 444.3h0M378.7 445.2h0M377.4 446.3h0M377.6 445.6h0M421.2 445.7h0M379.4 446.7h0M375.7 448h0M377.1 448.5h0M371.2 449.8h0M375.2 450.8h0M376.1 451h0M378.8 450.6h0M379.3 450.6h0M374.3 452.2h0M375.2 452h0M382.7 452.4h0M433.3 451.8h0M372.2 454.4h0M374.6 454h0M375.4 453.7h0M376.7 454h0M378.4 454.5h0M378.9 453.9h0M371.7 454.6h0M372.4 455.1h0M373.4 455.2h0M373.7 455h0M375.8 454.6h0M375.2 456.3h0M371.4 457.3h0M374.1 456.8h0M377.4 457.1h0M370.1 458.2h0M372.8 457.8h0M374 458h0M372.3 459h0M372.6 458.6h0M375.2 458.8h0M376.3 459.4h0M376.9 458.8h0M371.4 459.8h0M379.2 460.2h0" stroke="#111" stroke-width="1.4" stroke-linecap="square" fill="none"/>
<path d="M401.8 340.2h0M408.9 346.5h0M426 351.7h0M412.5 353.1h0M424.1 360.8h0M407.3 362.4h0M407.6 361.5h0M418.5 361.7h0M408.1 363.1h0M403.6 365.6h0M400.4 367.2h0M404.8 367.4h0M408.1 367.2h0M410.2 366.9h0M400.5 368.2h0M404.4 368.3h0M405.1 367.6h0M413.7 368.4h0M413.5 369.1h0M400.4 370h0M401.8 369.6h0M412.9 370h0M398.3 371.1h0M403.8 371h0M434.6 370.9h0M402.3 371.7h0M396.6 372.6h0M398.8 372.8h0M398.9 374.4h0M409.1 374.2h0M400.7 375.2h0M392.3 376.6h0M396.7 376.8h0M396 377.6h0M399.4 378.3h0M398.8 379.4h0M412.8 379.4h0M394.6 379.5h0M404.1 380.4h0M397.8 381.4h0M397.2 382.4h0M338.4 383h0M398.7 382.9h0M397.8 383.7h0M403 383.7h0M358 384.9h0M392.8 386.3h0M400.9 385.7h0M435.5 385.6h0M350.1 387.1h0M353.9 388.1h0M369.5 388.8h0M394.2 388.8h0M347.8 390.3h0M392.3 391.7h0M348.6 392.7h0M369.8 394.4h0M375.5 393.8h0M352.6 395.2h0M356.7 394.9h0M373.6 395.2h0M374.4 394.8h0M356.4 396.1h0M358.3 397h0M384 396.7h0M342.2 397.6h0M357.3 398.1h0M370 399.4h0M337.1 400.1h0M366 400.3h0M374.9 399.5h0M376.1 399.9h0M369.5 400.6h0M362.7 402.2h0M373.9 401.8h0M344.6 403h0M364 403h0M366.5 403.4h0M370.5 403.1h0M339.3 403.6h0M350.4 403.7h0M352.4 404.3h0M367.3 404h0M374.9 403.7h0M352.4 405.1h0M371.3 405.1h0M372 404.8h0M375.4 405.4h0M339.9 405.8h0M347.8 405.6h0M350.7 405.7h0M374.8 406h0M378.3 405.6h0M346.5 407.1h0M354.8 407.1h0M359.9 407.3h0M371.5 406.9h0M345.6 408.4h0M345.8 408h0M349.3 408.4h0M350 408.3h0M360.7 408.1h0M352.3 408.5h0M357.6 409.3h0M379 408.9h0M344 410h0M354.7 409.8h0M340.6 411.2h0M354.4 410.6h0M364.7 411h0M375.9 411.2h0M334.4 412.4h0M371.3 413.5h0M373.5 413.3h0M376.6 413.2h0M369.6 413.6h0M377.7 414h0M417.7 413.5h0M375.8 417.2h0M371.6 419.7h0M373.6 421.2h0M412 422.3h0M375.6 422.9h0M376.7 422.5h0M377.1 423.9h0M386.5 424h0M371.7 424.9h0M372.6 424.9h0M378.6 425.5h0M375.6 426.3h0M372 429h0M374.8 428.9h0M378.1 429.6h0M378.9 430.8h0M373.1 432.8h0M371.3 435.4h0M375.4 437.4h0M377.9 437.3h0M378.2 436.8h0M376.5 438.4h0M378.8 437.7h0M374.5 439.1h0M375.3 438.7h0M421 441.4h0M378.5 442.2h0M372.8 442.9h0M373.2 442.9h0M375.1 445.7h0M420.6 446h0M372 448.4h0M371.1 448.7h0M374.5 449.7h0M376.7 449.8h0M377.6 449.9h0M378.5 451.2h0M375.8 452.4h0M373.4 453h0M373.9 453.7h0M371.3 456.3h0M377.3 455.6h0M372.4 456.7h0M374.2 458.4h0M373.5 459h0M374 459.7h0" stroke="#444" stroke-width="1.4" stroke-linecap="square" fill="none"/>
<rect x="332.00" y="299.50" width="164.50" height="161.50" fill="none" stroke="#000" stroke-width="1.8"/>
<line x1="344.38" y1="461.00" x2="344.38" y2="463.50" stroke="#000" stroke-width="1.2"/>
<line x1="351.62" y1="461.00" x2="351.62" y2="463.50" stroke="#000" stroke-width="1.2"/>
<line x1="356.76" y1="461.00" x2="356.76" y2="463.50" stroke="#000" stroke-width="1.2"/>
<line x1="360.75" y1="461.00" x2="360.75" y2="463.50" stroke="#000" stroke-width="1.2"/>
<line x1="364.00" y1="461.00" x2="364.00" y2="463.50" stroke="#000" stroke-width="1.2"/>
<line x1="366.75" y1="461.00" x2="366.75" y2="463.50" stroke="#000" stroke-width="1.2"/>
<line x1="369.14" y1="461.00" x2="369.14" y2="463.50" stroke="#000" stroke-width="1.2"/>
<line x1="371.24" y1="461.00" x2="371.24" y2="463.50" stroke="#000" stroke-width="1.2"/>
<line x1="385.50" y1="461.00" x2="385.50" y2="463.50" stroke="#000" stroke-width="1.2"/>
<line x1="392.75" y1="461.00" x2="392.75" y2="463.50" stroke="#000" stroke-width="1.2"/>
<line x1="397.88" y1="461.00" x2="397.88" y2="463.50" stroke="#000" stroke-width="1.2"/>
<line x1="401.87" y1="461.00" x2="401.87" y2="463.50" stroke="#000" stroke-width="1.2"/>
<line x1="405.13" y1="461.00" x2="405.13" y2="463.50" stroke="#000" stroke-width="1.2"/>
<line x1="407.88" y1="461.00" x2="407.88" y2="463.50" stroke="#000" stroke-width="1.2"/>
<line x1="410.26" y1="461.00" x2="410.26" y2="463.50" stroke="#000" stroke-width="1.2"/>
<line x1="412.37" y1="461.00" x2="412.37" y2="463.50" stroke="#000" stroke-width="1.2"/>
<line x1="426.63" y1="461.00" x2="426.63" y2="463.50" stroke="#000" stroke-width="1.2"/>
<line x1="433.87" y1="461.00" x2="433.87" y2="463.50" stroke="#000" stroke-width="1.2"/>
<line x1="439.01" y1="461.00" x2="439.01" y2="463.50" stroke="#000" stroke-width="1.2"/>
<line x1="443.00" y1="461.00" x2="443.00" y2="463.50" stroke="#000" stroke-width="1.2"/>
<line x1="446.25" y1="461.00" x2="446.25" y2="463.50" stroke="#000" stroke-width="1.2"/>
<line x1="449.00" y1="461.00" x2="449.00" y2="463.50" stroke="#000" stroke-width="1.2"/>
<line x1="451.39" y1="461.00" x2="451.39" y2="463.50" stroke="#000" stroke-width="1.2"/>
<line x1="453.49" y1="461.00" x2="453.49" y2="463.50" stroke="#000" stroke-width="1.2"/>
<line x1="467.75" y1="461.00" x2="467.75" y2="463.50" stroke="#000" stroke-width="1.2"/>
<line x1="475.00" y1="461.00" x2="475.00" y2="463.50" stroke="#000" stroke-width="1.2"/>
<line x1="480.13" y1="461.00" x2="480.13" y2="463.50" stroke="#000" stroke-width="1.2"/>
<line x1="484.12" y1="461.00" x2="484.12" y2="463.50" stroke="#000" stroke-width="1.2"/>
<line x1="487.38" y1="461.00" x2="487.38" y2="463.50" stroke="#000" stroke-width="1.2"/>
<line x1="490.13" y1="461.00" x2="490.13" y2="463.50" stroke="#000" stroke-width="1.2"/>
<line x1="492.51" y1="461.00" x2="492.51" y2="463.50" stroke="#000" stroke-width="1.2"/>
<line x1="494.62" y1="461.00" x2="494.62" y2="463.50" stroke="#000" stroke-width="1.2"/>
<line x1="332.00" y1="461.00" x2="332.00" y2="465.50" stroke="#000" stroke-width="1.2"/>
<line x1="373.12" y1="461.00" x2="373.12" y2="465.50" stroke="#000" stroke-width="1.2"/>
<line x1="414.25" y1="461.00" x2="414.25" y2="465.50" stroke="#000" stroke-width="1.2"/>
<line x1="455.38" y1="461.00" x2="455.38" y2="465.50" stroke="#000" stroke-width="1.2"/>
<line x1="496.50" y1="461.00" x2="496.50" y2="465.50" stroke="#000" stroke-width="1.2"/>
<line x1="332.00" y1="448.85" x2="329.50" y2="448.85" stroke="#000" stroke-width="1.2"/>
<line x1="332.00" y1="441.74" x2="329.50" y2="441.74" stroke="#000" stroke-width="1.2"/>
<line x1="332.00" y1="436.69" x2="329.50" y2="436.69" stroke="#000" stroke-width="1.2"/>
<line x1="332.00" y1="432.78" x2="329.50" y2="432.78" stroke="#000" stroke-width="1.2"/>
<line x1="332.00" y1="429.58" x2="329.50" y2="429.58" stroke="#000" stroke-width="1.2"/>
<line x1="332.00" y1="426.88" x2="329.50" y2="426.88" stroke="#000" stroke-width="1.2"/>
<line x1="332.00" y1="424.54" x2="329.50" y2="424.54" stroke="#000" stroke-width="1.2"/>
<line x1="332.00" y1="422.47" x2="329.50" y2="422.47" stroke="#000" stroke-width="1.2"/>
<line x1="332.00" y1="408.47" x2="329.50" y2="408.47" stroke="#000" stroke-width="1.2"/>
<line x1="332.00" y1="401.36" x2="329.50" y2="401.36" stroke="#000" stroke-width="1.2"/>
<line x1="332.00" y1="396.32" x2="329.50" y2="396.32" stroke="#000" stroke-width="1.2"/>
<line x1="332.00" y1="392.40" x2="329.50" y2="392.40" stroke="#000" stroke-width="1.2"/>
<line x1="332.00" y1="389.21" x2="329.50" y2="389.21" stroke="#000" stroke-width="1.2"/>
<line x1="332.00" y1="386.50" x2="329.50" y2="386.50" stroke="#000" stroke-width="1.2"/>
<line x1="332.00" y1="384.16" x2="329.50" y2="384.16" stroke="#000" stroke-width="1.2"/>
<line x1="332.00" y1="382.10" x2="329.50" y2="382.10" stroke="#000" stroke-width="1.2"/>
<line x1="332.00" y1="368.10" x2="329.50" y2="368.10" stroke="#000" stroke-width="1.2"/>
<line x1="332.00" y1="360.99" x2="329.50" y2="360.99" stroke="#000" stroke-width="1.2"/>
<line x1="332.00" y1="355.94" x2="329.50" y2="355.94" stroke="#000" stroke-width="1.2"/>
<line x1="332.00" y1="352.03" x2="329.50" y2="352.03" stroke="#000" stroke-width="1.2"/>
<line x1="332.00" y1="348.83" x2="329.50" y2="348.83" stroke="#000" stroke-width="1.2"/>
<line x1="332.00" y1="346.13" x2="329.50" y2="346.13" stroke="#000" stroke-width="1.2"/>
<line x1="332.00" y1="343.79" x2="329.50" y2="343.79" stroke="#000" stroke-width="1.2"/>
<line x1="332.00" y1="341.72" x2="329.50" y2="341.72" stroke="#000" stroke-width="1.2"/>
<line x1="332.00" y1="327.72" x2="329.50" y2="327.72" stroke="#000" stroke-width="1.2"/>
<line x1="332.00" y1="320.61" x2="329.50" y2="320.61" stroke="#000" stroke-width="1.2"/>
<line x1="332.00" y1="315.57" x2="329.50" y2="315.57" stroke="#000" stroke-width="1.2"/>
<line x1="332.00" y1="311.65" x2="329.50" y2="311.65" stroke="#000" stroke-width="1.2"/>
<line x1="332.00" y1="308.46" x2="329.50" y2="308.46" stroke="#000" stroke-width="1.2"/>
<line x1="332.00" y1="305.75" x2="329.50" y2="305.75" stroke="#000" stroke-width="1.2"/>
<line x1="332.00" y1="303.41" x2="329.50" y2="303.41" stroke="#000" stroke-width="1.2"/>
<line x1="332.00" y1="301.35" x2="329.50" y2="301.35" stroke="#000" stroke-width="1.2"/>
<line x1="332.00" y1="461.00" x2="327.50" y2="461.00" stroke="#000" stroke-width="1.2"/>
<line x1="332.00" y1="420.62" x2="327.50" y2="420.62" stroke="#000" stroke-width="1.2"/>
<line x1="332.00" y1="380.25" x2="327.50" y2="380.25" stroke="#000" stroke-width="1.2"/>
<line x1="332.00" y1="339.88" x2="327.50" y2="339.88" stroke="#000" stroke-width="1.2"/>
<line x1="332.00" y1="299.50" x2="327.50" y2="299.50" stroke="#000" stroke-width="1.2"/>
<text transform="translate(332.50,477.00) scale(0.9,1)" font-family="'Liberation Sans', sans-serif" font-size="10.3" text-anchor="middle" stroke="#000" stroke-width="0.5">10<tspan dy="-5.6" dx="0.6">0</tspan></text>
<text transform="translate(324.50,460.80) rotate(-90) scale(0.82,1)" font-family="'Liberation Sans', sans-serif" font-size="10.5" text-anchor="middle" stroke="#000" stroke-width="0.5">10<tspan dy="-5.5" dx="1.8">0</tspan></text>
<text transform="translate(373.62,477.00) scale(0.9,1)" font-family="'Liberation Sans', sans-serif" font-size="10.3" text-anchor="middle" stroke="#000" stroke-width="0.5">10<tspan dy="-5.6" dx="0.6">1</tspan></text>
<text transform="translate(324.50,420.43) rotate(-90) scale(0.82,1)" font-family="'Liberation Sans', sans-serif" font-size="10.5" text-anchor="middle" stroke="#000" stroke-width="0.5">10<tspan dy="-5.5" dx="1.8">1</tspan></text>
<text transform="translate(414.75,477.00) scale(0.9,1)" font-family="'Liberation Sans', sans-serif" font-size="10.3" text-anchor="middle" stroke="#000" stroke-width="0.5">10<tspan dy="-5.6" dx="0.6">2</tspan></text>
<text transform="translate(324.50,380.05) rotate(-90) scale(0.82,1)" font-family="'Liberation Sans', sans-serif" font-size="10.5" text-anchor="middle" stroke="#000" stroke-width="0.5">10<tspan dy="-5.5" dx="1.8">2</tspan></text>
<text transform="translate(455.88,477.00) scale(0.9,1)" font-family="'Liberation Sans', sans-serif" font-size="10.3" text-anchor="middle" stroke="#000" stroke-width="0.5">10<tspan dy="-5.6" dx="0.6">3</tspan></text>
<text transform="translate(324.50,339.68) rotate(-90) scale(0.82,1)" font-family="'Liberation Sans', sans-serif" font-size="10.5" text-anchor="middle" stroke="#000" stroke-width="0.5">10<tspan dy="-5.5" dx="1.8">3</tspan></text>
<text transform="translate(497.00,477.00) scale(0.9,1)" font-family="'Liberation Sans', sans-serif" font-size="10.3" text-anchor="middle" stroke="#000" stroke-width="0.5">10<tspan dy="-5.6" dx="0.6">4</tspan></text>
<text transform="translate(324.50,299.30) rotate(-90) scale(0.82,1)" font-family="'Liberation Sans', sans-serif" font-size="10.5" text-anchor="middle" stroke="#000" stroke-width="0.5">10<tspan dy="-5.5" dx="1.8">4</tspan></text>
<line x1="378.80" y1="299.50" x2="378.80" y2="461.00" stroke="#000" stroke-width="1.6"/>
<line x1="332.00" y1="410.40" x2="496.50" y2="410.40" stroke="#000" stroke-width="1.9"/>
<line x1="28.70" y1="233.00" x2="28.70" y2="158.50" stroke="#000" stroke-width="1.4"/>
<line x1="28.00" y1="232.30" x2="103.00" y2="232.30" stroke="#000" stroke-width="1.4"/>
<polygon points="24.10,160.00 33.30,160.00 28.70,148.00" fill="#000"/>
<polygon points="101.50,228.00 101.50,236.60 113.00,232.30" fill="#000"/>
<line x1="288.80" y1="232.90" x2="288.80" y2="158.50" stroke="#000" stroke-width="1.4"/>
<line x1="288.10" y1="232.20" x2="364.00" y2="232.20" stroke="#000" stroke-width="1.4"/>
<polygon points="284.20,160.00 293.40,160.00 288.80,147.50" fill="#000"/>
<polygon points="362.50,227.90 362.50,236.50 373.80,232.20" fill="#000"/>
<line x1="29.20" y1="508.90" x2="29.20" y2="434.00" stroke="#000" stroke-width="1.4"/>
<line x1="28.50" y1="508.20" x2="105.20" y2="508.20" stroke="#000" stroke-width="1.4"/>
<polygon points="24.60,435.50 33.80,435.50 29.20,423.70" fill="#000"/>
<polygon points="103.70,503.90 103.70,512.50 115.00,508.20" fill="#000"/>
<line x1="290.00" y1="508.20" x2="290.00" y2="434.00" stroke="#000" stroke-width="1.4"/>
<line x1="289.30" y1="507.50" x2="366.00" y2="507.50" stroke="#000" stroke-width="1.4"/>
<polygon points="285.40,435.50 294.60,435.50 290.00,424.50" fill="#000"/>
<polygon points="364.50,503.20 364.50,511.80 375.00,507.50" fill="#000"/>
<line x1="6.30" y1="796.30" x2="6.30" y2="725.60" stroke="#000" stroke-width="1.4"/>
<line x1="5.60" y1="795.60" x2="75.20" y2="795.60" stroke="#000" stroke-width="1.4"/>
<polygon points="1.70,727.10 10.90,727.10 6.30,715.80" fill="#000"/>
<polygon points="73.70,791.30 73.70,799.90 85.20,795.60" fill="#000"/>
<rect x="42.00" y="589.00" width="216.70" height="172.00" fill="none" stroke="#000" stroke-width="1.8"/>
<line x1="58.31" y1="761.00" x2="58.31" y2="763.20" stroke="#000" stroke-width="1.2"/>
<line x1="67.85" y1="761.00" x2="67.85" y2="763.20" stroke="#000" stroke-width="1.2"/>
<line x1="74.62" y1="761.00" x2="74.62" y2="763.20" stroke="#000" stroke-width="1.2"/>
<line x1="79.87" y1="761.00" x2="79.87" y2="763.20" stroke="#000" stroke-width="1.2"/>
<line x1="84.16" y1="761.00" x2="84.16" y2="763.20" stroke="#000" stroke-width="1.2"/>
<line x1="87.78" y1="761.00" x2="87.78" y2="763.20" stroke="#000" stroke-width="1.2"/>
<line x1="90.92" y1="761.00" x2="90.92" y2="763.20" stroke="#000" stroke-width="1.2"/>
<line x1="93.70" y1="761.00" x2="93.70" y2="763.20" stroke="#000" stroke-width="1.2"/>
<line x1="112.48" y1="761.00" x2="112.48" y2="763.20" stroke="#000" stroke-width="1.2"/>
<line x1="122.02" y1="761.00" x2="122.02" y2="763.20" stroke="#000" stroke-width="1.2"/>
<line x1="128.79" y1="761.00" x2="128.79" y2="763.20" stroke="#000" stroke-width="1.2"/>
<line x1="134.04" y1="761.00" x2="134.04" y2="763.20" stroke="#000" stroke-width="1.2"/>
<line x1="138.33" y1="761.00" x2="138.33" y2="763.20" stroke="#000" stroke-width="1.2"/>
<line x1="141.96" y1="761.00" x2="141.96" y2="763.20" stroke="#000" stroke-width="1.2"/>
<line x1="145.10" y1="761.00" x2="145.10" y2="763.20" stroke="#000" stroke-width="1.2"/>
<line x1="147.87" y1="761.00" x2="147.87" y2="763.20" stroke="#000" stroke-width="1.2"/>
<line x1="166.66" y1="761.00" x2="166.66" y2="763.20" stroke="#000" stroke-width="1.2"/>
<line x1="176.20" y1="761.00" x2="176.20" y2="763.20" stroke="#000" stroke-width="1.2"/>
<line x1="182.97" y1="761.00" x2="182.97" y2="763.20" stroke="#000" stroke-width="1.2"/>
<line x1="188.22" y1="761.00" x2="188.22" y2="763.20" stroke="#000" stroke-width="1.2"/>
<line x1="192.51" y1="761.00" x2="192.51" y2="763.20" stroke="#000" stroke-width="1.2"/>
<line x1="196.13" y1="761.00" x2="196.13" y2="763.20" stroke="#000" stroke-width="1.2"/>
<line x1="199.27" y1="761.00" x2="199.27" y2="763.20" stroke="#000" stroke-width="1.2"/>
<line x1="202.05" y1="761.00" x2="202.05" y2="763.20" stroke="#000" stroke-width="1.2"/>
<line x1="220.83" y1="761.00" x2="220.83" y2="763.20" stroke="#000" stroke-width="1.2"/>
<line x1="230.37" y1="761.00" x2="230.37" y2="763.20" stroke="#000" stroke-width="1.2"/>
<line x1="237.14" y1="761.00" x2="237.14" y2="763.20" stroke="#000" stroke-width="1.2"/>
<line x1="242.39" y1="761.00" x2="242.39" y2="763.20" stroke="#000" stroke-width="1.2"/>
<line x1="246.68" y1="761.00" x2="246.68" y2="763.20" stroke="#000" stroke-width="1.2"/>
<line x1="250.31" y1="761.00" x2="250.31" y2="763.20" stroke="#000" stroke-width="1.2"/>
<line x1="253.45" y1="761.00" x2="253.45" y2="763.20" stroke="#000" stroke-width="1.2"/>
<line x1="256.22" y1="761.00" x2="256.22" y2="763.20" stroke="#000" stroke-width="1.2"/>
<line x1="42.00" y1="761.00" x2="42.00" y2="765.00" stroke="#000" stroke-width="1.2"/>
<line x1="96.17" y1="761.00" x2="96.17" y2="765.00" stroke="#000" stroke-width="1.2"/>
<line x1="150.35" y1="761.00" x2="150.35" y2="765.00" stroke="#000" stroke-width="1.2"/>
<line x1="204.52" y1="761.00" x2="204.52" y2="765.00" stroke="#000" stroke-width="1.2"/>
<line x1="258.70" y1="761.00" x2="258.70" y2="765.00" stroke="#000" stroke-width="1.2"/>
<line x1="42.00" y1="761.00" x2="37.50" y2="761.00" stroke="#000" stroke-width="1.25"/>
<line x1="42.00" y1="755.27" x2="39.20" y2="755.27" stroke="#000" stroke-width="1.25"/>
<line x1="42.00" y1="749.53" x2="39.20" y2="749.53" stroke="#000" stroke-width="1.25"/>
<line x1="42.00" y1="743.80" x2="39.20" y2="743.80" stroke="#000" stroke-width="1.25"/>
<line x1="42.00" y1="738.07" x2="39.20" y2="738.07" stroke="#000" stroke-width="1.25"/>
<line x1="42.00" y1="732.33" x2="37.50" y2="732.33" stroke="#000" stroke-width="1.25"/>
<line x1="42.00" y1="726.60" x2="39.20" y2="726.60" stroke="#000" stroke-width="1.25"/>
<line x1="42.00" y1="720.87" x2="39.20" y2="720.87" stroke="#000" stroke-width="1.25"/>
<line x1="42.00" y1="715.13" x2="39.20" y2="715.13" stroke="#000" stroke-width="1.25"/>
<line x1="42.00" y1="709.40" x2="39.20" y2="709.40" stroke="#000" stroke-width="1.25"/>
<line x1="42.00" y1="703.67" x2="37.50" y2="703.67" stroke="#000" stroke-width="1.25"/>
<line x1="42.00" y1="697.93" x2="39.20" y2="697.93" stroke="#000" stroke-width="1.25"/>
<line x1="42.00" y1="692.20" x2="39.20" y2="692.20" stroke="#000" stroke-width="1.25"/>
<line x1="42.00" y1="686.47" x2="39.20" y2="686.47" stroke="#000" stroke-width="1.25"/>
<line x1="42.00" y1="680.73" x2="39.20" y2="680.73" stroke="#000" stroke-width="1.25"/>
<line x1="42.00" y1="675.00" x2="37.50" y2="675.00" stroke="#000" stroke-width="1.25"/>
<line x1="42.00" y1="669.27" x2="39.20" y2="669.27" stroke="#000" stroke-width="1.25"/>
<line x1="42.00" y1="663.53" x2="39.20" y2="663.53" stroke="#000" stroke-width="1.25"/>
<line x1="42.00" y1="657.80" x2="39.20" y2="657.80" stroke="#000" stroke-width="1.25"/>
<line x1="42.00" y1="652.07" x2="39.20" y2="652.07" stroke="#000" stroke-width="1.25"/>
<line x1="42.00" y1="646.33" x2="37.50" y2="646.33" stroke="#000" stroke-width="1.25"/>
<line x1="42.00" y1="640.60" x2="39.20" y2="640.60" stroke="#000" stroke-width="1.25"/>
<line x1="42.00" y1="634.87" x2="39.20" y2="634.87" stroke="#000" stroke-width="1.25"/>
<line x1="42.00" y1="629.13" x2="39.20" y2="629.13" stroke="#000" stroke-width="1.25"/>
<line x1="42.00" y1="623.40" x2="39.20" y2="623.40" stroke="#000" stroke-width="1.25"/>
<line x1="42.00" y1="617.67" x2="37.50" y2="617.67" stroke="#000" stroke-width="1.25"/>
<line x1="42.00" y1="611.93" x2="39.20" y2="611.93" stroke="#000" stroke-width="1.25"/>
<line x1="42.00" y1="606.20" x2="39.20" y2="606.20" stroke="#000" stroke-width="1.25"/>
<line x1="42.00" y1="600.47" x2="39.20" y2="600.47" stroke="#000" stroke-width="1.25"/>
<line x1="42.00" y1="594.73" x2="39.20" y2="594.73" stroke="#000" stroke-width="1.25"/>
<line x1="42.00" y1="589.00" x2="37.50" y2="589.00" stroke="#000" stroke-width="1.25"/>
<text transform="translate(34.70,761.60) rotate(-90)" font-family="'Liberation Sans', sans-serif" font-size="10.3" text-anchor="middle" stroke="#000" stroke-width="0.5">0</text>
<text transform="translate(34.70,732.93) rotate(-90)" font-family="'Liberation Sans', sans-serif" font-size="10.3" text-anchor="middle" stroke="#000" stroke-width="0.5">5</text>
<text transform="translate(34.70,704.27) rotate(-90)" font-family="'Liberation Sans', sans-serif" font-size="10.3" text-anchor="middle" stroke="#000" stroke-width="0.5">10</text>
<text transform="translate(34.70,675.60) rotate(-90)" font-family="'Liberation Sans', sans-serif" font-size="10.3" text-anchor="middle" stroke="#000" stroke-width="0.5">15</text>
<text transform="translate(34.70,646.93) rotate(-90)" font-family="'Liberation Sans', sans-serif" font-size="10.3" text-anchor="middle" stroke="#000" stroke-width="0.5">20</text>
<text transform="translate(34.70,618.27) rotate(-90)" font-family="'Liberation Sans', sans-serif" font-size="10.3" text-anchor="middle" stroke="#000" stroke-width="0.5">25</text>
<text transform="translate(34.70,589.60) rotate(-90)" font-family="'Liberation Sans', sans-serif" font-size="10.3" text-anchor="middle" stroke="#000" stroke-width="0.5">30</text>
<text transform="translate(42.70,777.00) scale(0.9,1)" font-family="'Liberation Sans', sans-serif" font-size="10.3" text-anchor="middle" stroke="#000" stroke-width="0.5">10<tspan dy="-5.6" dx="0.6">0</tspan></text>
<text transform="translate(96.88,777.00) scale(0.9,1)" font-family="'Liberation Sans', sans-serif" font-size="10.3" text-anchor="middle" stroke="#000" stroke-width="0.5">10<tspan dy="-5.6" dx="0.6">1</tspan></text>
<text transform="translate(151.05,777.00) scale(0.9,1)" font-family="'Liberation Sans', sans-serif" font-size="10.3" text-anchor="middle" stroke="#000" stroke-width="0.5">10<tspan dy="-5.6" dx="0.6">2</tspan></text>
<text transform="translate(205.22,777.00) scale(0.9,1)" font-family="'Liberation Sans', sans-serif" font-size="10.3" text-anchor="middle" stroke="#000" stroke-width="0.5">10<tspan dy="-5.6" dx="0.6">3</tspan></text>
<text transform="translate(259.40,777.00) scale(0.9,1)" font-family="'Liberation Sans', sans-serif" font-size="10.3" text-anchor="middle" stroke="#000" stroke-width="0.5">10<tspan dy="-5.6" dx="0.6">4</tspan></text>
<path d="M42.0 761.0V658.0H43.0V668.0H44.0V679.0H45.0V687.0H46.0V696.0H47.0V699.0H48.0V699.0H49.0V703.0H49.8V703.0H50.6V689.0H51.6V689.0H52.6V685.0H53.6V685.0H54.6V686.0H55.5V687.1H56.5V687.0H57.4V685.6H58.3V679.3H59.1V679.1H59.8V680.0H60.6V691.0H61.5V691.6H62.3V689.5H63.2V687.0H64.2V687.0H65.2V672.0H65.8V672.0H66.5V670.0H67.0V663.0H68.0V663.0H69.0V656.0H70.0V640.0H71.0V653.0H72.0V652.0H73.0V652.0H74.0V646.0H75.0V635.0H76.0V635.3H76.8V633.9H77.7V634.5H78.5V640.0H79.0V652.0H79.8V652.0H80.5V662.0H81.4V662.0H82.3V646.0H83.0V646.0H83.8V658.0H85.0V673.9H85.8V673.7H86.6V674.4H87.4V674.7H88.2V673.8H89.0V662.5H90.0V672.0H91.0V687.0H92.0V687.0H93.0V695.0H94.0V695.0H95.0V702.5H96.0V712.0H97.0V724.0H98.0V731.0H99.0V731.0H100.0V735.0H101.0V735.0H102.0V738.0H103.2V745.0H103.8V745.0H104.5V750.0H105.2V750.0H106.0V754.4H106.8V755.0H107.7V753.8H108.5V753.3H109.4V754.8H110.2V754.0H111.1V753.0H111.9V753.8H112.8V754.1H113.6V753.5H114.5V753.3H115.3V754.5H116.2V755.2H117.0V758.3H117.8V757.9H118.6V758.8H119.4V759.1H120.2V758.3H121.0V754.9H121.9V755.3H122.7V754.3H123.6V753.8H124.4V754.8H125.3V754.7H126.1V755.4H127.0V753.5H127.9V754.0H128.7V753.8H129.6V753.1H130.4V754.6H131.3V754.9H132.1V753.9H133.0V755.6H133.9V755.2H134.7V755.0H135.6V754.8H136.4V755.3H137.3V753.4H138.1V755.0H139.0V755.0H139.9V753.1H140.7V754.8H141.6V754.3H142.4V755.1H143.3V754.1H144.1V754.5H145.0V761.0H145.9V761.0H146.8V761.0H147.6V761.0H148.5V761.0H149.4V761.0H150.3V761.0H151.2V761.0H152.0V761.0H152.9V761.0H153.8V761.0H154.7V761.0H155.5V761.0H156.4V761.0H157.3V755.0H158.0V755.0H158.7V761.0H159.5V761.0H160.4V761.0H161.2V761.0H162.0V761.0H162.8V761.0H163.7V761.0H164.5V761.0H165.3V761.0H166.2V761.0H167.0V761.0H167.8V761.0H168.7V761.0H169.5V761.0H170.3V761.0H171.1V761.0H172.0V761.0H172.8V755.0H173.5V755.0H174.2V761.0H175.1V761.0H175.9V761.0H176.8V761.0H177.7V761.0H178.6V761.0H179.4V761.0H180.3V755.0H181.0V755.0H181.7V761.0H182.0V761.0Z" fill="#000"/>
<rect x="296.00" y="589.00" width="216.70" height="171.00" fill="none" stroke="#000" stroke-width="1.8"/>
<line x1="312.31" y1="760.00" x2="312.31" y2="762.20" stroke="#000" stroke-width="1.2"/>
<line x1="321.85" y1="760.00" x2="321.85" y2="762.20" stroke="#000" stroke-width="1.2"/>
<line x1="328.62" y1="760.00" x2="328.62" y2="762.20" stroke="#000" stroke-width="1.2"/>
<line x1="333.87" y1="760.00" x2="333.87" y2="762.20" stroke="#000" stroke-width="1.2"/>
<line x1="338.16" y1="760.00" x2="338.16" y2="762.20" stroke="#000" stroke-width="1.2"/>
<line x1="341.78" y1="760.00" x2="341.78" y2="762.20" stroke="#000" stroke-width="1.2"/>
<line x1="344.92" y1="760.00" x2="344.92" y2="762.20" stroke="#000" stroke-width="1.2"/>
<line x1="347.70" y1="760.00" x2="347.70" y2="762.20" stroke="#000" stroke-width="1.2"/>
<line x1="366.48" y1="760.00" x2="366.48" y2="762.20" stroke="#000" stroke-width="1.2"/>
<line x1="376.02" y1="760.00" x2="376.02" y2="762.20" stroke="#000" stroke-width="1.2"/>
<line x1="382.79" y1="760.00" x2="382.79" y2="762.20" stroke="#000" stroke-width="1.2"/>
<line x1="388.04" y1="760.00" x2="388.04" y2="762.20" stroke="#000" stroke-width="1.2"/>
<line x1="392.33" y1="760.00" x2="392.33" y2="762.20" stroke="#000" stroke-width="1.2"/>
<line x1="395.96" y1="760.00" x2="395.96" y2="762.20" stroke="#000" stroke-width="1.2"/>
<line x1="399.10" y1="760.00" x2="399.10" y2="762.20" stroke="#000" stroke-width="1.2"/>
<line x1="401.87" y1="760.00" x2="401.87" y2="762.20" stroke="#000" stroke-width="1.2"/>
<line x1="420.66" y1="760.00" x2="420.66" y2="762.20" stroke="#000" stroke-width="1.2"/>
<line x1="430.20" y1="760.00" x2="430.20" y2="762.20" stroke="#000" stroke-width="1.2"/>
<line x1="436.97" y1="760.00" x2="436.97" y2="762.20" stroke="#000" stroke-width="1.2"/>
<line x1="442.22" y1="760.00" x2="442.22" y2="762.20" stroke="#000" stroke-width="1.2"/>
<line x1="446.51" y1="760.00" x2="446.51" y2="762.20" stroke="#000" stroke-width="1.2"/>
<line x1="450.13" y1="760.00" x2="450.13" y2="762.20" stroke="#000" stroke-width="1.2"/>
<line x1="453.27" y1="760.00" x2="453.27" y2="762.20" stroke="#000" stroke-width="1.2"/>
<line x1="456.05" y1="760.00" x2="456.05" y2="762.20" stroke="#000" stroke-width="1.2"/>
<line x1="474.83" y1="760.00" x2="474.83" y2="762.20" stroke="#000" stroke-width="1.2"/>
<line x1="484.37" y1="760.00" x2="484.37" y2="762.20" stroke="#000" stroke-width="1.2"/>
<line x1="491.14" y1="760.00" x2="491.14" y2="762.20" stroke="#000" stroke-width="1.2"/>
<line x1="496.39" y1="760.00" x2="496.39" y2="762.20" stroke="#000" stroke-width="1.2"/>
<line x1="500.68" y1="760.00" x2="500.68" y2="762.20" stroke="#000" stroke-width="1.2"/>
<line x1="504.31" y1="760.00" x2="504.31" y2="762.20" stroke="#000" stroke-width="1.2"/>
<line x1="507.45" y1="760.00" x2="507.45" y2="762.20" stroke="#000" stroke-width="1.2"/>
<line x1="510.22" y1="760.00" x2="510.22" y2="762.20" stroke="#000" stroke-width="1.2"/>
<line x1="296.00" y1="760.00" x2="296.00" y2="764.00" stroke="#000" stroke-width="1.2"/>
<line x1="350.18" y1="760.00" x2="350.18" y2="764.00" stroke="#000" stroke-width="1.2"/>
<line x1="404.35" y1="760.00" x2="404.35" y2="764.00" stroke="#000" stroke-width="1.2"/>
<line x1="458.53" y1="760.00" x2="458.53" y2="764.00" stroke="#000" stroke-width="1.2"/>
<line x1="512.70" y1="760.00" x2="512.70" y2="764.00" stroke="#000" stroke-width="1.2"/>
<line x1="296.00" y1="760.00" x2="291.50" y2="760.00" stroke="#000" stroke-width="1.25"/>
<line x1="296.00" y1="754.30" x2="293.20" y2="754.30" stroke="#000" stroke-width="1.25"/>
<line x1="296.00" y1="748.60" x2="293.20" y2="748.60" stroke="#000" stroke-width="1.25"/>
<line x1="296.00" y1="742.90" x2="293.20" y2="742.90" stroke="#000" stroke-width="1.25"/>
<line x1="296.00" y1="737.20" x2="293.20" y2="737.20" stroke="#000" stroke-width="1.25"/>
<line x1="296.00" y1="731.50" x2="291.50" y2="731.50" stroke="#000" stroke-width="1.25"/>
<line x1="296.00" y1="725.80" x2="293.20" y2="725.80" stroke="#000" stroke-width="1.25"/>
<line x1="296.00" y1="720.10" x2="293.20" y2="720.10" stroke="#000" stroke-width="1.25"/>
<line x1="296.00" y1="714.40" x2="293.20" y2="714.40" stroke="#000" stroke-width="1.25"/>
<line x1="296.00" y1="708.70" x2="293.20" y2="708.70" stroke="#000" stroke-width="1.25"/>
<line x1="296.00" y1="703.00" x2="291.50" y2="703.00" stroke="#000" stroke-width="1.25"/>
<line x1="296.00" y1="697.30" x2="293.20" y2="697.30" stroke="#000" stroke-width="1.25"/>
<line x1="296.00" y1="691.60" x2="293.20" y2="691.60" stroke="#000" stroke-width="1.25"/>
<line x1="296.00" y1="685.90" x2="293.20" y2="685.90" stroke="#000" stroke-width="1.25"/>
<line x1="296.00" y1="680.20" x2="293.20" y2="680.20" stroke="#000" stroke-width="1.25"/>
<line x1="296.00" y1="674.50" x2="291.50" y2="674.50" stroke="#000" stroke-width="1.25"/>
<line x1="296.00" y1="668.80" x2="293.20" y2="668.80" stroke="#000" stroke-width="1.25"/>
<line x1="296.00" y1="663.10" x2="293.20" y2="663.10" stroke="#000" stroke-width="1.25"/>
<line x1="296.00" y1="657.40" x2="293.20" y2="657.40" stroke="#000" stroke-width="1.25"/>
<line x1="296.00" y1="651.70" x2="293.20" y2="651.70" stroke="#000" stroke-width="1.25"/>
<line x1="296.00" y1="646.00" x2="291.50" y2="646.00" stroke="#000" stroke-width="1.25"/>
<line x1="296.00" y1="640.30" x2="293.20" y2="640.30" stroke="#000" stroke-width="1.25"/>
<line x1="296.00" y1="634.60" x2="293.20" y2="634.60" stroke="#000" stroke-width="1.25"/>
<line x1="296.00" y1="628.90" x2="293.20" y2="628.90" stroke="#000" stroke-width="1.25"/>
<line x1="296.00" y1="623.20" x2="293.20" y2="623.20" stroke="#000" stroke-width="1.25"/>
<line x1="296.00" y1="617.50" x2="291.50" y2="617.50" stroke="#000" stroke-width="1.25"/>
<line x1="296.00" y1="611.80" x2="293.20" y2="611.80" stroke="#000" stroke-width="1.25"/>
<line x1="296.00" y1="606.10" x2="293.20" y2="606.10" stroke="#000" stroke-width="1.25"/>
<line x1="296.00" y1="600.40" x2="293.20" y2="600.40" stroke="#000" stroke-width="1.25"/>
<line x1="296.00" y1="594.70" x2="293.20" y2="594.70" stroke="#000" stroke-width="1.25"/>
<line x1="296.00" y1="589.00" x2="291.50" y2="589.00" stroke="#000" stroke-width="1.25"/>
<text transform="translate(288.70,760.60) rotate(-90)" font-family="'Liberation Sans', sans-serif" font-size="10.3" text-anchor="middle" stroke="#000" stroke-width="0.5">0</text>
<text transform="translate(288.70,732.10) rotate(-90)" font-family="'Liberation Sans', sans-serif" font-size="10.3" text-anchor="middle" stroke="#000" stroke-width="0.5">5</text>
<text transform="translate(288.70,703.60) rotate(-90)" font-family="'Liberation Sans', sans-serif" font-size="10.3" text-anchor="middle" stroke="#000" stroke-width="0.5">10</text>
<text transform="translate(288.70,675.10) rotate(-90)" font-family="'Liberation Sans', sans-serif" font-size="10.3" text-anchor="middle" stroke="#000" stroke-width="0.5">15</text>
<text transform="translate(288.70,646.60) rotate(-90)" font-family="'Liberation Sans', sans-serif" font-size="10.3" text-anchor="middle" stroke="#000" stroke-width="0.5">20</text>
<text transform="translate(288.70,618.10) rotate(-90)" font-family="'Liberation Sans', sans-serif" font-size="10.3" text-anchor="middle" stroke="#000" stroke-width="0.5">25</text>
<text transform="translate(288.70,589.60) rotate(-90)" font-family="'Liberation Sans', sans-serif" font-size="10.3" text-anchor="middle" stroke="#000" stroke-width="0.5">30</text>
<text transform="translate(296.70,776.00) scale(0.9,1)" font-family="'Liberation Sans', sans-serif" font-size="10.3" text-anchor="middle" stroke="#000" stroke-width="0.5">10<tspan dy="-5.6" dx="0.6">0</tspan></text>
<text transform="translate(350.88,776.00) scale(0.9,1)" font-family="'Liberation Sans', sans-serif" font-size="10.3" text-anchor="middle" stroke="#000" stroke-width="0.5">10<tspan dy="-5.6" dx="0.6">1</tspan></text>
<text transform="translate(405.05,776.00) scale(0.9,1)" font-family="'Liberation Sans', sans-serif" font-size="10.3" text-anchor="middle" stroke="#000" stroke-width="0.5">10<tspan dy="-5.6" dx="0.6">2</tspan></text>
<text transform="translate(459.23,776.00) scale(0.9,1)" font-family="'Liberation Sans', sans-serif" font-size="10.3" text-anchor="middle" stroke="#000" stroke-width="0.5">10<tspan dy="-5.6" dx="0.6">3</tspan></text>
<text transform="translate(513.40,776.00) scale(0.9,1)" font-family="'Liberation Sans', sans-serif" font-size="10.3" text-anchor="middle" stroke="#000" stroke-width="0.5">10<tspan dy="-5.6" dx="0.6">4</tspan></text>
<path d="M296.0 760.0V681.5H297.0V700.0H298.0V710.0H299.2V718.0H300.3V726.0H301.1V726.0H302.0V725.0H302.9V725.8H303.7V725.6H304.6V715.6H305.3V716.3H306.1V714.0H306.8V725.0H307.8V725.0H308.8V718.9H309.7V718.3H310.5V719.3H311.4V724.0H312.4V724.0H313.4V716.8H314.3V716.0H315.1V716.4H316.0V706.5H316.8V708.1H317.6V707.3H318.4V716.4H319.1V715.7H319.9V715.8H320.6V696.4H321.4V696.9H322.2V696.9H323.0V697.6H324.0V679.2H324.7V679.2H325.4V700.7H326.2V700.6H327.0V700.9H327.8V700.5H328.6V678.7H329.3V679.0H330.1V678.6H330.8V698.2H331.7V696.3H332.5V698.3H333.4V691.3H334.1V691.4H334.9V690.7H335.6V695.3H336.5V695.3H337.4V690.6H338.1V690.5H338.9V690.9H339.6V696.4H340.5V696.4H341.4V693.0H342.2V690.7H343.0V690.7H343.8V697.0H344.6V702.2H345.6V702.2H346.6V713.3H347.6V713.8H348.5V715.2H349.4V714.0H350.4V715.5H351.2V716.8H352.1V715.9H352.9V716.5H353.8V713.6H354.7V713.6H355.6V719.9H356.5V719.1H357.4V717.9H358.2V719.1H359.1V719.8H360.0V719.1H360.9V719.8H361.7V720.2H362.6V707.6H363.3V709.0H364.1V709.3H364.8V718.9H365.6V718.9H366.4V718.9H367.2V713.6H368.0V713.6H368.8V719.8H369.6V718.1H370.4V718.0H371.2V708.0H372.0V708.0H372.8V691.7H373.6V690.5H374.5V690.0H375.3V690.5H376.1V691.5H376.9V691.6H377.8V690.0H378.6V706.5H379.5V707.7H380.3V707.8H381.2V702.0H382.1V702.5H382.9V703.0H383.8V714.8H384.7V714.8H385.6V708.2H386.4V708.5H387.2V707.1H388.0V707.1H388.8V708.2H389.6V724.0H390.4V724.0H391.2V725.5H392.0V725.6H392.8V725.5H393.6V726.9H394.5V726.9H395.3V724.9H396.1V725.7H397.0V735.4H397.8V735.4H398.5V738.0H399.5V738.0H400.5V742.7H401.2V742.8H402.0V741.1H402.8V743.2H403.5V731.5H404.1V731.5H404.8V743.4H405.7V743.6H406.6V744.0H407.5V742.9H408.3V741.2H409.2V743.1H410.0V747.1H410.9V746.4H411.8V746.8H412.6V745.3H413.5V736.0H414.1V736.0H414.8V748.0H415.6V748.6H416.5V747.9H417.3V748.2H418.1V748.4H419.0V748.5H419.8V749.3H420.7V748.5H421.5V751.3H422.2V751.9H423.0V753.2H423.8V751.2H424.5V748.9H425.3V747.2H426.2V749.6H427.0V754.3H427.9V754.9H428.7V753.8H429.6V753.0H430.4V754.5H431.2V754.4H432.1V753.1H432.9V752.6H433.8V754.2H434.6V753.7H435.5V741.5H436.2V741.5H437.0V756.7H437.8V754.1H438.7V754.2H439.5V754.5H440.3V753.3H441.2V753.9H442.0V754.6H442.9V753.2H443.8V752.8H444.6V752.3H445.5V758.0H446.4V758.0H447.2V757.7H448.1V757.2H449.0V753.5H449.9V753.6H450.9V752.8H451.8V760.0Z" fill="#000"/>
<line x1="103.30" y1="669.00" x2="103.30" y2="686.80" stroke="#000" stroke-width="1.0"/>
<line x1="103.30" y1="677.50" x2="258.70" y2="677.50" stroke="#000" stroke-width="1.0"/>
<text x="187.6" y="689.2" font-family="'Liberation Sans', sans-serif" font-size="10.5" text-anchor="middle">M1</text>
<line x1="357.00" y1="668.00" x2="357.00" y2="688.00" stroke="#000" stroke-width="1.0"/>
<line x1="357.00" y1="677.50" x2="512.70" y2="677.50" stroke="#000" stroke-width="1.0"/>
<text x="441.7" y="688" font-family="'Liberation Sans', sans-serif" font-size="10.5" text-anchor="middle">M1</text>
<text x="0.26" y="26.62" font-family="'Liberation Sans', sans-serif" font-weight="bold" font-size="38.00" textLength="25.31" lengthAdjust="spacingAndGlyphs" stroke="#000" stroke-width="0.6">A</text>
<text x="-1.78" y="300.56" font-family="'Liberation Sans', sans-serif" font-weight="bold" font-size="38.00" textLength="25.70" lengthAdjust="spacingAndGlyphs" stroke="#000" stroke-width="0.6">B</text>
<text x="-0.30" y="590.12" font-family="'Liberation Sans', sans-serif" font-weight="bold" font-size="39.00" textLength="25.30" lengthAdjust="spacingAndGlyphs" stroke="#000" stroke-width="0.6">C</text>
<text x="130.70" y="12.94" font-family="'Liberation Serif', serif" font-weight="bold" font-size="16.50" textLength="42.47" lengthAdjust="spacing" stroke="#000" stroke-width="0.3">CD8+</text>
<text x="392.64" y="12.38" font-family="'Liberation Serif', serif" font-weight="bold" font-size="16.50" textLength="41.54" lengthAdjust="spacing" stroke="#000" stroke-width="0.3">CD8-</text>
<text x="130.94" y="286.12" font-family="'Liberation Serif', serif" font-weight="bold" font-size="16.50" textLength="41.21" lengthAdjust="spacing" stroke="#000" stroke-width="0.3">CD4+</text>
<text x="394.76" y="286.12" font-family="'Liberation Serif', serif" font-weight="bold" font-size="16.50" textLength="41.43" lengthAdjust="spacing" stroke="#000" stroke-width="0.3">CD4+</text>
<text x="128.32" y="574.12" font-family="'Liberation Serif', serif" font-weight="bold" font-size="16.50" textLength="58.41" lengthAdjust="spacing" stroke="#000" stroke-width="0.3">IL-4R-</text>
<text x="372.50" y="574.12" font-family="'Liberation Serif', serif" font-weight="bold" font-size="16.50" textLength="58.82" lengthAdjust="spacing" stroke="#000" stroke-width="0.3">IL-4R+</text>
<text x="193.44" y="48.50" font-family="'Liberation Serif', serif" font-weight="bold" font-size="13.00" textLength="33.20" lengthAdjust="spacing" stroke="#000" stroke-width="0.3">3.0%</text>
<text x="455.58" y="48.38" font-family="'Liberation Serif', serif" font-weight="bold" font-size="13.00" textLength="32.79" lengthAdjust="spacing" stroke="#000" stroke-width="0.3">1.0%</text>
<text x="193.44" y="323.06" font-family="'Liberation Serif', serif" font-weight="bold" font-size="14.00" textLength="34.22" lengthAdjust="spacing" stroke="#000" stroke-width="0.3">2.8%</text>
<text x="456.94" y="323.06" font-family="'Liberation Serif', serif" font-weight="bold" font-size="14.00" textLength="33.53" lengthAdjust="spacing" stroke="#000" stroke-width="0.3">2.5%</text>
<text x="211.94" y="611.06" font-family="'Liberation Serif', serif" font-weight="bold" font-size="14.00" textLength="34.31" lengthAdjust="spacing" stroke="#000" stroke-width="0.3">0.5%</text>
<text x="456.38" y="611.06" font-family="'Liberation Serif', serif" font-weight="bold" font-size="14.00" textLength="42.13" lengthAdjust="spacing" stroke="#000" stroke-width="0.3">39.0%</text>
<text x="118.82" y="236.06" font-family="'Liberation Serif', serif" font-weight="bold" font-size="14.00" textLength="36.98" lengthAdjust="spacing" stroke="#000" stroke-width="0.3">CD30</text>
<text x="379.94" y="235.94" font-family="'Liberation Serif', serif" font-weight="bold" font-size="14.00" textLength="37.14" lengthAdjust="spacing" stroke="#000" stroke-width="0.3">CD30</text>
<text x="119.32" y="511.38" font-family="'Liberation Serif', serif" font-weight="bold" font-size="14.00" textLength="37.14" lengthAdjust="spacing" stroke="#000" stroke-width="0.3">CD30</text>
<text x="381.50" y="511.38" font-family="'Liberation Serif', serif" font-weight="bold" font-size="14.00" textLength="36.83" lengthAdjust="spacing" stroke="#000" stroke-width="0.3">CD30</text>
<text x="91.50" y="799.12" font-family="'Liberation Serif', serif" font-weight="bold" font-size="14.00" textLength="37.92" lengthAdjust="spacing" stroke="#000" stroke-width="0.3">CD30</text>
<text transform="translate(34.00,139.80) rotate(-90)" font-family="'Liberation Serif', serif" font-weight="bold" font-size="14.30" textLength="27.70" lengthAdjust="spacing" stroke="#000" stroke-width="0.3">CD4</text>
<text transform="translate(293.88,137.30) rotate(-90)" font-family="'Liberation Serif', serif" font-weight="bold" font-size="14.30" textLength="27.66" lengthAdjust="spacing" stroke="#000" stroke-width="0.3">CD4</text>
<text transform="translate(33.75,411.24) rotate(-90)" font-family="'Liberation Serif', serif" font-weight="bold" font-size="14.30" textLength="56.17" lengthAdjust="spacing" stroke="#000" stroke-width="0.3">CD45R0</text>
<text transform="translate(295.44,375.00) rotate(-90)" font-family="'Liberation Serif', serif" font-weight="bold" font-size="14.30" textLength="9.65" lengthAdjust="spacingAndGlyphs" stroke="#000" stroke-width="0.3">R</text>
<text transform="translate(295.44,413.75) rotate(-90)" font-family="'Liberation Serif', serif" font-weight="bold" font-size="14.30" textLength="27.85" lengthAdjust="spacing" stroke="#000" stroke-width="0.3">IL-4</text>
<text transform="translate(14.25,709.80) rotate(-90)" font-family="'Liberation Sans', sans-serif" font-weight="bold" font-size="14.00" textLength="48.38" lengthAdjust="spacing" stroke="#000" stroke-width="0.3">Counts</text>
</svg></body></html>
